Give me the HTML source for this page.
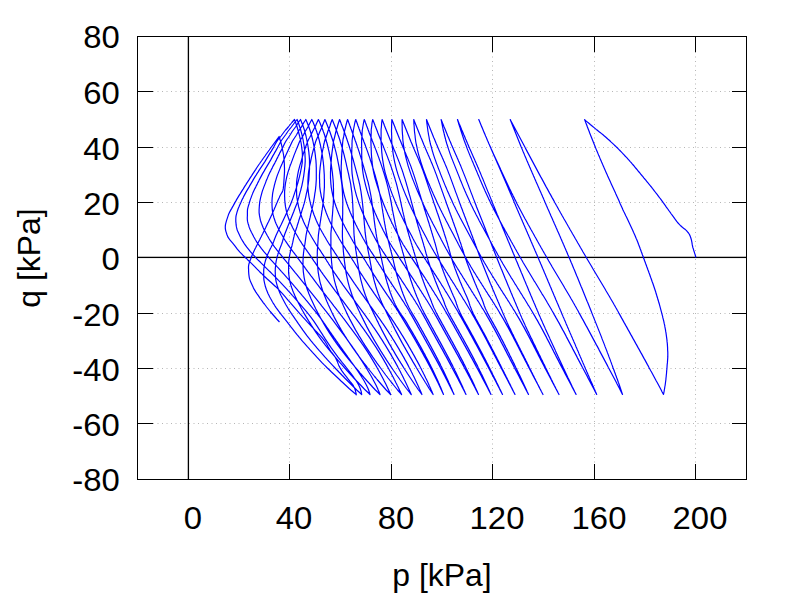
<!DOCTYPE html>
<html><head><meta charset="utf-8"><title>p-q stress path</title>
<style>
html,body{margin:0;padding:0;background:#fff;}
body{width:800px;height:600px;overflow:hidden;}
svg{display:block;}
text{font-family:"Liberation Sans",sans-serif;fill:#000;}
</style></head><body>
<svg width="800" height="600" viewBox="0 0 800 600">
<rect x="0" y="0" width="800" height="600" fill="#ffffff"/>
<g stroke="#b6b6b6" stroke-width="1" stroke-dasharray="1,3.5" fill="none">
<line x1="289.5" y1="52" x2="289.5" y2="463.5"/>
<line x1="391.5" y1="52" x2="391.5" y2="463.5"/>
<line x1="492.5" y1="52" x2="492.5" y2="463.5"/>
<line x1="594.5" y1="52" x2="594.5" y2="463.5"/>
<line x1="695.5" y1="52" x2="695.5" y2="463.5"/>
<line x1="153" y1="91.5" x2="731.5" y2="91.5"/>
<line x1="153" y1="147.5" x2="731.5" y2="147.5"/>
<line x1="153" y1="202.5" x2="731.5" y2="202.5"/>
<line x1="153" y1="313.5" x2="731.5" y2="313.5"/>
<line x1="153" y1="368.5" x2="731.5" y2="368.5"/>
<line x1="153" y1="423.5" x2="731.5" y2="423.5"/>
</g>
<g stroke="#000" stroke-width="1" fill="none" shape-rendering="crispEdges"><line stroke-opacity="0.26" x1="138.0" y1="256.5" x2="746.0" y2="256.5"/><line stroke-opacity="0.06" x1="138.0" y1="258.5" x2="746.0" y2="258.5"/><line stroke-opacity="0.26" x1="187.5" y1="37.0" x2="187.5" y2="479.0"/><line stroke-opacity="0.06" x1="189.5" y1="37.0" x2="189.5" y2="479.0"/></g>
<g stroke="#000" stroke-width="1" fill="none" shape-rendering="crispEdges">
<rect x="137.5" y="36.5" width="609.0" height="443.0"/>
<line x1="137.5" y1="257.5" x2="746.5" y2="257.5"/>
<line x1="188.5" y1="36.5" x2="188.5" y2="479.5"/>
<line x1="188.5" y1="479.5" x2="188.5" y2="463.5"/>
<line x1="188.5" y1="36.5" x2="188.5" y2="51.5"/>
<line x1="289.5" y1="479.5" x2="289.5" y2="463.5"/>
<line x1="289.5" y1="36.5" x2="289.5" y2="51.5"/>
<line x1="391.5" y1="479.5" x2="391.5" y2="463.5"/>
<line x1="391.5" y1="36.5" x2="391.5" y2="51.5"/>
<line x1="492.5" y1="479.5" x2="492.5" y2="463.5"/>
<line x1="492.5" y1="36.5" x2="492.5" y2="51.5"/>
<line x1="594.5" y1="479.5" x2="594.5" y2="463.5"/>
<line x1="594.5" y1="36.5" x2="594.5" y2="51.5"/>
<line x1="695.5" y1="479.5" x2="695.5" y2="463.5"/>
<line x1="695.5" y1="36.5" x2="695.5" y2="51.5"/>
<line x1="137.5" y1="36.5" x2="152.5" y2="36.5"/>
<line x1="746.5" y1="36.5" x2="731.5" y2="36.5"/>
<line x1="137.5" y1="91.5" x2="152.5" y2="91.5"/>
<line x1="746.5" y1="91.5" x2="731.5" y2="91.5"/>
<line x1="137.5" y1="147.5" x2="152.5" y2="147.5"/>
<line x1="746.5" y1="147.5" x2="731.5" y2="147.5"/>
<line x1="137.5" y1="202.5" x2="152.5" y2="202.5"/>
<line x1="746.5" y1="202.5" x2="731.5" y2="202.5"/>
<line x1="137.5" y1="257.5" x2="152.5" y2="257.5"/>
<line x1="746.5" y1="257.5" x2="731.5" y2="257.5"/>
<line x1="137.5" y1="313.5" x2="152.5" y2="313.5"/>
<line x1="746.5" y1="313.5" x2="731.5" y2="313.5"/>
<line x1="137.5" y1="368.5" x2="152.5" y2="368.5"/>
<line x1="746.5" y1="368.5" x2="731.5" y2="368.5"/>
<line x1="137.5" y1="423.5" x2="152.5" y2="423.5"/>
<line x1="746.5" y1="423.5" x2="731.5" y2="423.5"/>
<line x1="137.5" y1="479.5" x2="152.5" y2="479.5"/>
<line x1="746.5" y1="479.5" x2="731.5" y2="479.5"/>
</g>
<path d="M695.9,257.5 L695.5,256.0 L695.1,254.6 L694.6,253.1 L694.2,251.7 L693.7,250.2 L693.3,248.8 L692.8,247.4 L692.5,245.9 L692.2,244.4 L692.0,242.9 L691.7,241.4 L691.4,239.9 L691.0,238.5 L690.5,237.0 L690.0,235.6 L689.3,234.3 L688.5,233.0 L687.5,231.8 L686.5,230.6 L685.4,229.6 L684.2,228.7 L683.0,227.8 L681.8,226.8 L680.7,225.8 L679.6,224.7 L678.6,223.6 L677.6,222.5 L676.7,221.3 L675.8,220.1 L674.9,218.9 L674.0,217.6 L673.1,216.4 L672.2,215.2 L671.3,214.0 L670.4,212.7 L669.6,211.5 L668.7,210.3 L667.8,209.0 L666.9,207.8 L666.0,206.6 L665.2,205.3 L664.3,204.1 L663.4,202.9 L662.5,201.6 L661.6,200.4 L660.7,199.2 L659.8,198.0 L658.9,196.8 L658.0,195.6 L657.1,194.4 L656.1,193.2 L655.2,192.0 L654.3,190.8 L653.4,189.6 L652.4,188.4 L651.5,187.2 L650.5,186.0 L649.6,184.8 L648.6,183.7 L647.7,182.5 L646.7,181.3 L645.8,180.1 L644.8,179.0 L643.8,177.8 L642.9,176.6 L641.9,175.5 L640.9,174.3 L640.0,173.2 L639.0,172.0 L638.0,170.8 L637.1,169.7 L636.1,168.5 L635.1,167.3 L634.2,166.2 L633.2,165.0 L632.2,163.9 L631.2,162.7 L630.2,161.6 L629.2,160.4 L628.2,159.3 L627.2,158.2 L626.2,157.1 L625.1,156.0 L624.1,154.9 L623.1,153.8 L622.0,152.7 L621.0,151.6 L619.9,150.5 L618.8,149.4 L617.8,148.3 L616.7,147.3 L615.6,146.2 L614.5,145.2 L613.4,144.1 L612.3,143.1 L611.2,142.1 L610.1,141.0 L609.0,140.0 L607.8,139.0 L606.7,138.0 L605.6,137.0 L604.4,136.0 L603.3,135.0 L602.1,134.1 L600.9,133.1 L599.7,132.2 L598.5,131.3 L597.4,130.3 L596.2,129.4 L595.0,128.4 L593.8,127.4 L592.7,126.5 L591.5,125.5 L590.3,124.5 L589.2,123.5 L588.0,122.6 L586.9,121.6 L585.7,120.6 L584.6,119.6 L584.6,119.5 L585.2,121.0 L585.7,122.5 L586.3,124.0 L586.9,125.5 L587.4,127.0 L588.0,128.5 L588.6,130.0 L589.2,131.5 L589.7,133.0 L590.3,134.5 L590.9,136.0 L591.5,137.5 L592.1,139.0 L592.7,140.5 L593.3,142.0 L593.9,143.5 L594.5,145.0 L595.1,146.5 L595.7,148.1 L596.3,149.6 L596.9,151.1 L597.6,152.6 L598.2,154.1 L598.8,155.6 L599.5,157.1 L600.1,158.6 L600.7,160.1 L601.4,161.6 L602.0,163.1 L602.7,164.6 L603.3,166.1 L604.0,167.6 L604.6,169.1 L605.3,170.6 L605.9,172.1 L606.6,173.6 L607.3,175.1 L607.9,176.6 L608.6,178.1 L609.3,179.6 L610.0,181.1 L610.7,182.6 L611.3,184.1 L612.0,185.6 L612.7,187.1 L613.4,188.6 L614.1,190.1 L614.8,191.6 L615.5,193.1 L616.1,194.6 L616.8,196.1 L617.5,197.6 L618.2,199.1 L618.9,200.6 L619.6,202.2 L620.2,203.7 L620.9,205.2 L621.6,206.7 L622.3,208.2 L622.9,209.7 L623.6,211.2 L624.4,212.7 L625.1,214.2 L625.8,215.7 L626.6,217.2 L627.3,218.7 L628.0,220.2 L628.7,221.7 L629.4,223.2 L630.1,224.7 L630.8,226.2 L631.5,227.7 L632.2,229.2 L632.9,230.7 L633.5,232.2 L634.2,233.7 L634.9,235.2 L635.5,236.7 L636.1,238.2 L636.8,239.7 L637.4,241.2 L638.0,242.7 L638.5,244.2 L639.1,245.7 L639.7,247.2 L640.2,248.7 L640.8,250.2 L641.3,251.7 L641.9,253.2 L642.4,254.7 L643.0,256.2 L643.5,257.8 L644.1,259.3 L644.6,260.8 L645.2,262.3 L645.7,263.8 L646.3,265.3 L646.8,266.8 L647.4,268.3 L647.9,269.8 L648.5,271.3 L649.0,272.8 L649.6,274.3 L650.1,275.8 L650.6,277.3 L651.2,278.8 L651.7,280.3 L652.2,281.8 L652.8,283.3 L653.3,284.8 L653.8,286.3 L654.3,287.8 L654.8,289.3 L655.3,290.8 L655.8,292.3 L656.2,293.8 L656.7,295.3 L657.1,296.8 L657.6,298.3 L658.0,299.8 L658.5,301.3 L658.9,302.8 L659.4,304.3 L659.8,305.8 L660.2,307.3 L660.6,308.8 L661.0,310.3 L661.4,311.8 L661.8,313.4 L662.2,314.9 L662.6,316.4 L662.9,317.9 L663.3,319.4 L663.7,320.9 L664.0,322.4 L664.3,323.9 L664.7,325.4 L664.9,326.9 L665.2,328.4 L665.5,329.9 L665.7,331.4 L666.0,332.9 L666.2,334.4 L666.4,335.9 L666.6,337.4 L666.8,338.9 L667.0,340.4 L667.1,341.9 L667.3,343.4 L667.4,344.9 L667.5,346.4 L667.6,347.9 L667.6,349.4 L667.7,350.9 L667.8,352.4 L667.8,353.9 L667.8,355.4 L667.8,356.9 L667.7,358.4 L667.6,359.9 L667.5,361.4 L667.4,362.9 L667.2,364.4 L667.1,365.9 L667.0,367.5 L666.9,369.0 L666.7,370.5 L666.6,372.0 L666.5,373.5 L666.3,375.0 L666.2,376.5 L666.0,378.0 L665.9,379.5 L665.7,381.0 L665.5,382.5 L665.3,384.0 L665.1,385.5 L664.8,387.0 L664.6,388.5 L664.3,390.0 L664.1,391.5 L663.8,393.0 L663.5,394.5 L663.5,394.5 L662.7,393.0 L661.9,391.5 L661.2,390.0 L660.4,388.5 L659.6,387.0 L658.8,385.5 L658.0,384.0 L657.2,382.5 L656.3,381.0 L655.5,379.5 L654.7,378.0 L653.9,376.5 L653.1,375.0 L652.3,373.5 L651.5,372.0 L650.6,370.5 L649.8,369.0 L649.0,367.5 L648.2,365.9 L647.3,364.4 L646.5,362.9 L645.7,361.4 L644.9,359.9 L644.0,358.4 L643.2,356.9 L642.4,355.4 L641.6,353.9 L640.7,352.4 L639.9,350.9 L639.1,349.4 L638.2,347.9 L637.4,346.4 L636.6,344.9 L635.7,343.4 L634.9,341.9 L634.1,340.4 L633.2,338.9 L632.4,337.4 L631.6,335.9 L630.7,334.4 L629.9,332.9 L629.1,331.4 L628.2,329.9 L627.4,328.4 L626.6,326.9 L625.7,325.4 L624.9,323.9 L624.0,322.4 L623.2,320.9 L622.4,319.4 L621.5,317.9 L620.7,316.4 L619.9,314.9 L619.0,313.4 L618.2,311.8 L617.3,310.3 L616.5,308.8 L615.6,307.3 L614.8,305.8 L613.9,304.3 L613.1,302.8 L612.2,301.3 L611.3,299.8 L610.4,298.3 L609.6,296.8 L608.7,295.3 L607.8,293.8 L606.9,292.3 L606.0,290.8 L605.2,289.3 L604.3,287.8 L603.4,286.3 L602.5,284.8 L601.6,283.3 L600.7,281.8 L599.8,280.3 L598.9,278.8 L598.0,277.3 L597.1,275.8 L596.2,274.3 L595.3,272.8 L594.4,271.3 L593.5,269.8 L592.6,268.3 L591.8,266.8 L590.9,265.3 L590.0,263.8 L589.1,262.3 L588.2,260.8 L587.3,259.3 L586.4,257.8 L585.6,256.2 L584.7,254.7 L583.8,253.2 L582.9,251.7 L582.1,250.2 L581.2,248.7 L580.3,247.2 L579.5,245.7 L578.6,244.2 L577.7,242.7 L576.9,241.2 L576.0,239.7 L575.1,238.2 L574.3,236.7 L573.4,235.2 L572.5,233.7 L571.7,232.2 L570.8,230.7 L569.9,229.2 L569.1,227.7 L568.2,226.2 L567.4,224.7 L566.5,223.2 L565.7,221.7 L564.8,220.2 L563.9,218.7 L563.1,217.2 L562.2,215.7 L561.4,214.2 L560.5,212.7 L559.7,211.2 L558.8,209.7 L558.0,208.2 L557.2,206.7 L556.3,205.2 L555.5,203.7 L554.6,202.2 L553.8,200.6 L553.0,199.1 L552.1,197.6 L551.3,196.1 L550.5,194.6 L549.6,193.1 L548.8,191.6 L548.0,190.1 L547.2,188.6 L546.3,187.1 L545.5,185.6 L544.7,184.1 L543.9,182.6 L543.1,181.1 L542.3,179.6 L541.5,178.1 L540.6,176.6 L539.8,175.1 L539.0,173.6 L538.2,172.1 L537.4,170.6 L536.6,169.1 L535.8,167.6 L535.0,166.1 L534.2,164.6 L533.4,163.1 L532.6,161.6 L531.8,160.1 L531.0,158.6 L530.2,157.1 L529.4,155.6 L528.6,154.1 L527.8,152.6 L527.0,151.1 L526.2,149.6 L525.4,148.1 L524.6,146.5 L523.8,145.0 L523.0,143.5 L522.2,142.0 L521.4,140.5 L520.6,139.0 L519.8,137.5 L519.0,136.0 L518.2,134.5 L517.4,133.0 L516.6,131.5 L515.8,130.0 L515.0,128.5 L514.2,127.0 L513.4,125.5 L512.6,124.0 L511.8,122.5 L511.0,121.0 L510.3,119.5 L510.2,119.5 L510.8,121.0 L511.4,122.5 L512.0,124.0 L512.6,125.5 L513.2,127.0 L513.8,128.5 L514.4,130.0 L515.0,131.5 L515.6,133.0 L516.2,134.5 L516.8,136.0 L517.4,137.5 L518.0,139.0 L518.6,140.5 L519.2,142.0 L519.8,143.5 L520.4,145.0 L521.0,146.5 L521.7,148.1 L522.3,149.6 L522.9,151.1 L523.5,152.6 L524.2,154.1 L524.8,155.6 L525.4,157.1 L526.1,158.6 L526.7,160.1 L527.3,161.6 L528.0,163.1 L528.6,164.6 L529.3,166.1 L529.9,167.6 L530.6,169.1 L531.2,170.6 L531.9,172.1 L532.5,173.6 L533.2,175.1 L533.8,176.6 L534.5,178.1 L535.1,179.6 L535.8,181.1 L536.4,182.6 L537.1,184.1 L537.8,185.6 L538.4,187.1 L539.1,188.6 L539.7,190.1 L540.4,191.6 L541.1,193.1 L541.7,194.6 L542.4,196.1 L543.0,197.6 L543.7,199.1 L544.3,200.6 L545.0,202.2 L545.7,203.7 L546.3,205.2 L547.0,206.7 L547.6,208.2 L548.3,209.7 L549.0,211.2 L549.6,212.7 L550.3,214.2 L550.9,215.7 L551.6,217.2 L552.3,218.7 L552.9,220.2 L553.6,221.7 L554.2,223.2 L554.9,224.7 L555.6,226.2 L556.2,227.7 L556.9,229.2 L557.5,230.7 L558.2,232.2 L558.9,233.7 L559.5,235.2 L560.2,236.7 L560.8,238.2 L561.5,239.7 L562.1,241.2 L562.8,242.7 L563.4,244.2 L564.1,245.7 L564.7,247.2 L565.4,248.7 L566.0,250.2 L566.7,251.7 L567.3,253.2 L567.9,254.7 L568.6,256.2 L569.2,257.8 L569.9,259.3 L570.5,260.8 L571.1,262.3 L571.8,263.8 L572.4,265.3 L573.0,266.8 L573.6,268.3 L574.3,269.8 L574.9,271.3 L575.5,272.8 L576.1,274.3 L576.7,275.8 L577.4,277.3 L578.0,278.8 L578.6,280.3 L579.2,281.8 L579.8,283.3 L580.4,284.8 L581.0,286.3 L581.7,287.8 L582.3,289.3 L582.9,290.8 L583.5,292.3 L584.1,293.8 L584.7,295.3 L585.3,296.8 L585.9,298.3 L586.5,299.8 L587.1,301.3 L587.8,302.8 L588.4,304.3 L589.0,305.8 L589.6,307.3 L590.2,308.8 L590.8,310.3 L591.4,311.8 L592.0,313.4 L592.6,314.9 L593.2,316.4 L593.8,317.9 L594.4,319.4 L595.0,320.9 L595.6,322.4 L596.2,323.9 L596.8,325.4 L597.4,326.9 L598.0,328.4 L598.6,329.9 L599.2,331.4 L599.8,332.9 L600.4,334.4 L601.0,335.9 L601.6,337.4 L602.1,338.9 L602.7,340.4 L603.3,341.9 L603.9,343.4 L604.5,344.9 L605.0,346.4 L605.6,347.9 L606.2,349.4 L606.8,350.9 L607.3,352.4 L607.9,353.9 L608.5,355.4 L609.0,356.9 L609.6,358.4 L610.2,359.9 L610.7,361.4 L611.3,362.9 L611.8,364.4 L612.4,365.9 L612.9,367.5 L613.5,369.0 L614.1,370.5 L614.6,372.0 L615.2,373.5 L615.7,375.0 L616.3,376.5 L616.8,378.0 L617.4,379.5 L617.9,381.0 L618.4,382.5 L619.0,384.0 L619.5,385.5 L620.0,387.0 L620.5,388.5 L621.0,390.0 L621.5,391.5 L622.0,393.0 L622.5,394.5 L622.5,394.5 L621.7,393.0 L621.0,391.5 L620.2,390.0 L619.5,388.5 L618.7,387.0 L617.9,385.5 L617.1,384.0 L616.4,382.5 L615.6,381.0 L614.8,379.5 L614.0,378.0 L613.2,376.5 L612.4,375.0 L611.6,373.5 L610.8,372.0 L610.0,370.5 L609.2,369.0 L608.4,367.5 L607.6,365.9 L606.8,364.4 L606.0,362.9 L605.2,361.4 L604.4,359.9 L603.6,358.4 L602.8,356.9 L602.0,355.4 L601.2,353.9 L600.4,352.4 L599.6,350.9 L598.9,349.4 L598.1,347.9 L597.3,346.4 L596.4,344.9 L595.6,343.4 L594.8,341.9 L594.0,340.4 L593.2,338.9 L592.4,337.4 L591.6,335.9 L590.8,334.4 L590.0,332.9 L589.2,331.4 L588.4,329.9 L587.6,328.4 L586.8,326.9 L585.9,325.4 L585.1,323.9 L584.3,322.4 L583.5,320.9 L582.7,319.4 L581.8,317.9 L581.0,316.4 L580.2,314.9 L579.3,313.4 L578.5,311.8 L577.7,310.3 L576.8,308.8 L576.0,307.3 L575.1,305.8 L574.3,304.3 L573.4,302.8 L572.6,301.3 L571.7,299.8 L570.8,298.3 L570.0,296.8 L569.1,295.3 L568.2,293.8 L567.3,292.3 L566.4,290.8 L565.5,289.3 L564.6,287.8 L563.8,286.3 L562.9,284.8 L562.0,283.3 L561.1,281.8 L560.2,280.3 L559.3,278.8 L558.4,277.3 L557.5,275.8 L556.6,274.3 L555.7,272.8 L554.8,271.3 L553.9,269.8 L553.0,268.3 L552.1,266.8 L551.3,265.3 L550.4,263.8 L549.5,262.3 L548.6,260.8 L547.8,259.3 L546.9,257.8 L546.1,256.2 L545.2,254.7 L544.3,253.2 L543.5,251.7 L542.6,250.2 L541.8,248.7 L540.9,247.2 L540.1,245.7 L539.2,244.2 L538.4,242.7 L537.5,241.2 L536.7,239.7 L535.9,238.2 L535.0,236.7 L534.2,235.2 L533.4,233.7 L532.5,232.2 L531.7,230.7 L530.8,229.2 L530.0,227.7 L529.2,226.2 L528.3,224.7 L527.5,223.2 L526.7,221.7 L525.9,220.2 L525.0,218.7 L524.2,217.2 L523.4,215.7 L522.6,214.2 L521.8,212.7 L521.0,211.2 L520.2,209.7 L519.4,208.2 L518.6,206.7 L517.8,205.2 L517.0,203.7 L516.3,202.2 L515.5,200.6 L514.7,199.1 L514.0,197.6 L513.2,196.1 L512.5,194.6 L511.7,193.1 L511.0,191.6 L510.3,190.1 L509.5,188.6 L508.8,187.1 L508.1,185.6 L507.4,184.1 L506.7,182.6 L506.0,181.1 L505.3,179.6 L504.6,178.1 L503.9,176.6 L503.2,175.1 L502.5,173.6 L501.8,172.1 L501.1,170.6 L500.5,169.1 L499.8,167.6 L499.1,166.1 L498.4,164.6 L497.7,163.1 L497.0,161.6 L496.3,160.1 L495.6,158.6 L494.9,157.1 L494.2,155.6 L493.5,154.1 L492.9,152.6 L492.2,151.1 L491.5,149.6 L490.9,148.1 L490.2,146.5 L489.5,145.0 L488.8,143.5 L488.2,142.0 L487.5,140.5 L486.9,139.0 L486.3,137.5 L485.6,136.0 L485.0,134.5 L484.3,133.0 L483.7,131.5 L483.1,130.0 L482.5,128.5 L481.8,127.0 L481.2,125.5 L480.6,124.0 L480.0,122.5 L479.4,121.0 L478.8,119.5 L478.7,119.5 L479.4,121.0 L480.0,122.5 L480.6,124.0 L481.2,125.5 L481.9,127.0 L482.5,128.5 L483.1,130.0 L483.7,131.5 L484.4,133.0 L485.0,134.5 L485.6,136.0 L486.3,137.5 L486.9,139.0 L487.5,140.5 L488.2,142.0 L488.8,143.5 L489.5,145.0 L490.1,146.5 L490.8,148.1 L491.4,149.6 L492.1,151.1 L492.7,152.6 L493.4,154.1 L494.0,155.6 L494.7,157.1 L495.4,158.6 L496.0,160.1 L496.7,161.6 L497.3,163.1 L498.0,164.6 L498.7,166.1 L499.3,167.6 L500.0,169.1 L500.6,170.6 L501.3,172.1 L501.9,173.6 L502.6,175.1 L503.2,176.6 L503.9,178.1 L504.5,179.6 L505.2,181.1 L505.8,182.6 L506.5,184.1 L507.1,185.6 L507.8,187.1 L508.4,188.6 L509.0,190.1 L509.7,191.6 L510.3,193.1 L511.0,194.6 L511.6,196.1 L512.3,197.6 L512.9,199.1 L513.6,200.6 L514.2,202.2 L514.9,203.7 L515.5,205.2 L516.1,206.7 L516.8,208.2 L517.4,209.7 L518.1,211.2 L518.7,212.7 L519.4,214.2 L520.0,215.7 L520.7,217.2 L521.3,218.7 L522.0,220.2 L522.6,221.7 L523.3,223.2 L523.9,224.7 L524.6,226.2 L525.2,227.7 L525.9,229.2 L526.5,230.7 L527.2,232.2 L527.8,233.7 L528.5,235.2 L529.1,236.7 L529.8,238.2 L530.4,239.7 L531.0,241.2 L531.7,242.7 L532.3,244.2 L533.0,245.7 L533.6,247.2 L534.3,248.7 L534.9,250.2 L535.6,251.7 L536.2,253.2 L536.9,254.7 L537.5,256.2 L538.2,257.8 L538.8,259.3 L539.4,260.8 L540.1,262.3 L540.7,263.8 L541.4,265.3 L542.0,266.8 L542.6,268.3 L543.3,269.8 L543.9,271.3 L544.5,272.8 L545.2,274.3 L545.8,275.8 L546.4,277.3 L547.1,278.8 L547.7,280.3 L548.3,281.8 L549.0,283.3 L549.6,284.8 L550.2,286.3 L550.9,287.8 L551.5,289.3 L552.1,290.8 L552.8,292.3 L553.4,293.8 L554.0,295.3 L554.7,296.8 L555.3,298.3 L555.9,299.8 L556.6,301.3 L557.2,302.8 L557.9,304.3 L558.5,305.8 L559.1,307.3 L559.8,308.8 L560.4,310.3 L561.1,311.8 L561.7,313.4 L562.4,314.9 L563.0,316.4 L563.7,317.9 L564.3,319.4 L565.0,320.9 L565.6,322.4 L566.2,323.9 L566.9,325.4 L567.5,326.9 L568.2,328.4 L568.8,329.9 L569.5,331.4 L570.1,332.9 L570.8,334.4 L571.4,335.9 L572.1,337.4 L572.7,338.9 L573.4,340.4 L574.0,341.9 L574.7,343.4 L575.3,344.9 L575.9,346.4 L576.6,347.9 L577.2,349.4 L577.9,350.9 L578.5,352.4 L579.1,353.9 L579.8,355.4 L580.4,356.9 L581.1,358.4 L581.7,359.9 L582.4,361.4 L583.0,362.9 L583.7,364.4 L584.3,365.9 L585.0,367.5 L585.6,369.0 L586.3,370.5 L586.9,372.0 L587.6,373.5 L588.2,375.0 L588.9,376.5 L589.5,378.0 L590.2,379.5 L590.8,381.0 L591.5,382.5 L592.2,384.0 L592.8,385.5 L593.5,387.0 L594.1,388.5 L594.8,390.0 L595.4,391.5 L596.1,393.0 L596.7,394.5 L596.7,394.5 L595.9,393.0 L595.1,391.5 L594.4,390.0 L593.6,388.5 L592.8,387.0 L592.0,385.5 L591.2,384.0 L590.4,382.5 L589.6,381.0 L588.8,379.5 L588.0,378.0 L587.3,376.5 L586.5,375.0 L585.7,373.5 L584.9,372.0 L584.1,370.5 L583.3,369.0 L582.5,367.5 L581.7,365.9 L580.9,364.4 L580.1,362.9 L579.3,361.4 L578.5,359.9 L577.7,358.4 L577.0,356.9 L576.2,355.4 L575.4,353.9 L574.6,352.4 L573.8,350.9 L573.0,349.4 L572.3,347.9 L571.5,346.4 L570.7,344.9 L569.9,343.4 L569.1,341.9 L568.3,340.4 L567.5,338.9 L566.7,337.4 L566.0,335.9 L565.2,334.4 L564.4,332.9 L563.6,331.4 L562.7,329.9 L561.9,328.4 L561.1,326.9 L560.3,325.4 L559.5,323.9 L558.7,322.4 L557.8,320.9 L557.0,319.4 L556.1,317.9 L555.3,316.4 L554.4,314.9 L553.6,313.4 L552.7,311.8 L551.8,310.3 L551.0,308.8 L550.1,307.3 L549.2,305.8 L548.3,304.3 L547.4,302.8 L546.6,301.3 L545.7,299.8 L544.8,298.3 L543.9,296.8 L543.0,295.3 L542.0,293.8 L541.1,292.3 L540.2,290.8 L539.3,289.3 L538.4,287.8 L537.5,286.3 L536.6,284.8 L535.7,283.3 L534.8,281.8 L533.8,280.3 L532.9,278.8 L532.0,277.3 L531.1,275.8 L530.2,274.3 L529.3,272.8 L528.4,271.3 L527.5,269.8 L526.6,268.3 L525.7,266.8 L524.8,265.3 L523.9,263.8 L523.0,262.3 L522.2,260.8 L521.3,259.3 L520.5,257.8 L519.6,256.2 L518.7,254.7 L517.9,253.2 L517.0,251.7 L516.2,250.2 L515.3,248.7 L514.5,247.2 L513.7,245.7 L512.8,244.2 L512.0,242.7 L511.1,241.2 L510.3,239.7 L509.5,238.2 L508.7,236.7 L507.8,235.2 L507.0,233.7 L506.2,232.2 L505.3,230.7 L504.5,229.2 L503.7,227.7 L502.8,226.2 L502.0,224.7 L501.2,223.2 L500.4,221.7 L499.6,220.2 L498.8,218.7 L498.0,217.2 L497.2,215.7 L496.4,214.2 L495.6,212.7 L494.8,211.2 L494.0,209.7 L493.3,208.2 L492.5,206.7 L491.8,205.2 L491.0,203.7 L490.3,202.2 L489.6,200.6 L488.8,199.1 L488.1,197.6 L487.4,196.1 L486.7,194.6 L486.0,193.1 L485.3,191.6 L484.7,190.1 L484.0,188.6 L483.3,187.1 L482.7,185.6 L482.0,184.1 L481.4,182.6 L480.7,181.1 L480.1,179.6 L479.5,178.1 L478.9,176.6 L478.2,175.1 L477.6,173.6 L477.0,172.1 L476.3,170.6 L475.7,169.1 L475.1,167.6 L474.4,166.1 L473.8,164.6 L473.2,163.1 L472.5,161.6 L471.9,160.1 L471.3,158.6 L470.6,157.1 L470.0,155.6 L469.4,154.1 L468.8,152.6 L468.2,151.1 L467.6,149.6 L467.0,148.1 L466.5,146.5 L465.9,145.0 L465.3,143.5 L464.8,142.0 L464.2,140.5 L463.7,139.0 L463.2,137.5 L462.7,136.0 L462.2,134.5 L461.7,133.0 L461.2,131.5 L460.7,130.0 L460.3,128.5 L459.8,127.0 L459.3,125.5 L458.8,124.0 L458.4,122.5 L457.9,121.0 L457.5,119.5 L457.5,119.5 L458.1,121.0 L458.7,122.5 L459.3,124.0 L460.0,125.5 L460.6,127.0 L461.2,128.5 L461.8,130.0 L462.5,131.5 L463.1,133.0 L463.7,134.5 L464.4,136.0 L465.0,137.5 L465.6,139.0 L466.3,140.5 L466.9,142.0 L467.5,143.5 L468.2,145.0 L468.8,146.5 L469.5,148.1 L470.1,149.6 L470.8,151.1 L471.5,152.6 L472.1,154.1 L472.8,155.6 L473.4,157.1 L474.1,158.6 L474.8,160.1 L475.4,161.6 L476.1,163.1 L476.7,164.6 L477.4,166.1 L478.0,167.6 L478.7,169.1 L479.3,170.6 L479.9,172.1 L480.6,173.6 L481.2,175.1 L481.8,176.6 L482.4,178.1 L483.1,179.6 L483.7,181.1 L484.3,182.6 L484.9,184.1 L485.5,185.6 L486.1,187.1 L486.7,188.6 L487.3,190.1 L487.9,191.6 L488.5,193.1 L489.2,194.6 L489.8,196.1 L490.4,197.6 L491.0,199.1 L491.6,200.6 L492.2,202.2 L492.8,203.7 L493.4,205.2 L494.1,206.7 L494.7,208.2 L495.3,209.7 L495.9,211.2 L496.5,212.7 L497.1,214.2 L497.8,215.7 L498.4,217.2 L499.0,218.7 L499.6,220.2 L500.2,221.7 L500.9,223.2 L501.5,224.7 L502.1,226.2 L502.7,227.7 L503.3,229.2 L504.0,230.7 L504.6,232.2 L505.2,233.7 L505.8,235.2 L506.5,236.7 L507.1,238.2 L507.7,239.7 L508.3,241.2 L509.0,242.7 L509.6,244.2 L510.2,245.7 L510.8,247.2 L511.5,248.7 L512.1,250.2 L512.7,251.7 L513.3,253.2 L514.0,254.7 L514.6,256.2 L515.2,257.8 L515.8,259.3 L516.4,260.8 L517.1,262.3 L517.7,263.8 L518.3,265.3 L518.9,266.8 L519.6,268.3 L520.2,269.8 L520.8,271.3 L521.4,272.8 L522.1,274.3 L522.7,275.8 L523.3,277.3 L523.9,278.8 L524.5,280.3 L525.2,281.8 L525.8,283.3 L526.4,284.8 L527.1,286.3 L527.7,287.8 L528.3,289.3 L528.9,290.8 L529.6,292.3 L530.2,293.8 L530.8,295.3 L531.5,296.8 L532.1,298.3 L532.7,299.8 L533.4,301.3 L534.0,302.8 L534.7,304.3 L535.3,305.8 L535.9,307.3 L536.6,308.8 L537.2,310.3 L537.9,311.8 L538.5,313.4 L539.2,314.9 L539.9,316.4 L540.5,317.9 L541.2,319.4 L541.9,320.9 L542.5,322.4 L543.2,323.9 L543.9,325.4 L544.6,326.9 L545.2,328.4 L545.9,329.9 L546.6,331.4 L547.3,332.9 L548.0,334.4 L548.7,335.9 L549.4,337.4 L550.0,338.9 L550.7,340.4 L551.4,341.9 L552.1,343.4 L552.8,344.9 L553.5,346.4 L554.2,347.9 L554.9,349.4 L555.5,350.9 L556.2,352.4 L556.9,353.9 L557.6,355.4 L558.3,356.9 L559.0,358.4 L559.7,359.9 L560.4,361.4 L561.1,362.9 L561.8,364.4 L562.5,365.9 L563.2,367.5 L563.9,369.0 L564.6,370.5 L565.3,372.0 L566.0,373.5 L566.7,375.0 L567.4,376.5 L568.1,378.0 L568.9,379.5 L569.6,381.0 L570.3,382.5 L571.0,384.0 L571.7,385.5 L572.4,387.0 L573.2,388.5 L573.9,390.0 L574.6,391.5 L575.4,393.0 L576.1,394.5 L576.1,394.5 L575.3,393.0 L574.5,391.5 L573.7,390.0 L572.9,388.5 L572.1,387.0 L571.4,385.5 L570.6,384.0 L569.8,382.5 L569.0,381.0 L568.2,379.5 L567.4,378.0 L566.6,376.5 L565.8,375.0 L565.0,373.5 L564.3,372.0 L563.5,370.5 L562.7,369.0 L561.9,367.5 L561.1,365.9 L560.3,364.4 L559.5,362.9 L558.8,361.4 L558.0,359.9 L557.2,358.4 L556.4,356.9 L555.7,355.4 L554.9,353.9 L554.1,352.4 L553.4,350.9 L552.6,349.4 L551.9,347.9 L551.1,346.4 L550.3,344.9 L549.6,343.4 L548.8,341.9 L548.0,340.4 L547.2,338.9 L546.5,337.4 L545.7,335.9 L544.9,334.4 L544.1,332.9 L543.3,331.4 L542.5,329.9 L541.7,328.4 L540.9,326.9 L540.1,325.4 L539.2,323.9 L538.4,322.4 L537.6,320.9 L536.7,319.4 L535.8,317.9 L535.0,316.4 L534.1,314.9 L533.2,313.4 L532.3,311.8 L531.4,310.3 L530.5,308.8 L529.6,307.3 L528.7,305.8 L527.7,304.3 L526.8,302.8 L525.9,301.3 L525.0,299.8 L524.1,298.3 L523.1,296.8 L522.2,295.3 L521.3,293.8 L520.3,292.3 L519.4,290.8 L518.5,289.3 L517.5,287.8 L516.6,286.3 L515.7,284.8 L514.7,283.3 L513.8,281.8 L512.9,280.3 L512.0,278.8 L511.0,277.3 L510.1,275.8 L509.2,274.3 L508.3,272.8 L507.4,271.3 L506.5,269.8 L505.6,268.3 L504.7,266.8 L503.8,265.3 L502.9,263.8 L502.1,262.3 L501.2,260.8 L500.4,259.3 L499.5,257.8 L498.7,256.2 L497.8,254.7 L497.0,253.2 L496.2,251.7 L495.3,250.2 L494.5,248.7 L493.7,247.2 L492.8,245.7 L492.0,244.2 L491.2,242.7 L490.4,241.2 L489.6,239.7 L488.8,238.2 L487.9,236.7 L487.1,235.2 L486.3,233.7 L485.5,232.2 L484.7,230.7 L483.9,229.2 L483.1,227.7 L482.2,226.2 L481.4,224.7 L480.6,223.2 L479.8,221.7 L479.0,220.2 L478.3,218.7 L477.5,217.2 L476.7,215.7 L475.9,214.2 L475.2,212.7 L474.4,211.2 L473.6,209.7 L472.9,208.2 L472.2,206.7 L471.4,205.2 L470.7,203.7 L470.0,202.2 L469.3,200.6 L468.6,199.1 L467.9,197.6 L467.2,196.1 L466.5,194.6 L465.9,193.1 L465.2,191.6 L464.6,190.1 L463.9,188.6 L463.3,187.1 L462.7,185.6 L462.1,184.1 L461.5,182.6 L460.8,181.1 L460.2,179.6 L459.7,178.1 L459.1,176.6 L458.5,175.1 L457.9,173.6 L457.3,172.1 L456.7,170.6 L456.1,169.1 L455.5,167.6 L454.9,166.1 L454.3,164.6 L453.7,163.1 L453.1,161.6 L452.5,160.1 L451.9,158.6 L451.3,157.1 L450.8,155.6 L450.2,154.1 L449.7,152.6 L449.2,151.1 L448.7,149.6 L448.2,148.1 L447.7,146.5 L447.2,145.0 L446.7,143.5 L446.3,142.0 L445.8,140.5 L445.5,139.0 L445.1,137.5 L444.7,136.0 L444.3,134.5 L444.0,133.0 L443.6,131.5 L443.2,130.0 L442.9,128.5 L442.6,127.0 L442.3,125.5 L442.0,124.0 L441.7,122.5 L441.4,121.0 L441.1,119.5 L441.1,119.5 L441.7,121.0 L442.3,122.5 L442.9,124.0 L443.5,125.5 L444.1,127.0 L444.8,128.5 L445.4,130.0 L446.0,131.5 L446.6,133.0 L447.2,134.5 L447.8,136.0 L448.5,137.5 L449.1,139.0 L449.7,140.5 L450.4,142.0 L451.0,143.5 L451.6,145.0 L452.3,146.5 L452.9,148.1 L453.6,149.6 L454.2,151.1 L454.9,152.6 L455.5,154.1 L456.2,155.6 L456.9,157.1 L457.5,158.6 L458.2,160.1 L458.8,161.6 L459.5,163.1 L460.1,164.6 L460.8,166.1 L461.4,167.6 L462.0,169.1 L462.6,170.6 L463.2,172.1 L463.8,173.6 L464.4,175.1 L465.0,176.6 L465.6,178.1 L466.2,179.6 L466.7,181.1 L467.3,182.6 L467.9,184.1 L468.5,185.6 L469.0,187.1 L469.6,188.6 L470.2,190.1 L470.7,191.6 L471.3,193.1 L471.9,194.6 L472.5,196.1 L473.0,197.6 L473.6,199.1 L474.2,200.6 L474.8,202.2 L475.4,203.7 L476.0,205.2 L476.5,206.7 L477.1,208.2 L477.7,209.7 L478.3,211.2 L478.9,212.7 L479.5,214.2 L480.1,215.7 L480.7,217.2 L481.3,218.7 L481.9,220.2 L482.5,221.7 L483.1,223.2 L483.7,224.7 L484.3,226.2 L484.9,227.7 L485.5,229.2 L486.0,230.7 L486.6,232.2 L487.2,233.7 L487.8,235.2 L488.4,236.7 L489.0,238.2 L489.6,239.7 L490.3,241.2 L490.9,242.7 L491.5,244.2 L492.0,245.7 L492.6,247.2 L493.2,248.7 L493.8,250.2 L494.4,251.7 L495.0,253.2 L495.6,254.7 L496.2,256.2 L496.8,257.8 L497.4,259.3 L498.0,260.8 L498.6,262.3 L499.2,263.8 L499.8,265.3 L500.4,266.8 L501.0,268.3 L501.7,269.8 L502.3,271.3 L502.9,272.8 L503.5,274.3 L504.1,275.8 L504.7,277.3 L505.3,278.8 L506.0,280.3 L506.6,281.8 L507.2,283.3 L507.8,284.8 L508.4,286.3 L509.1,287.8 L509.7,289.3 L510.3,290.8 L510.9,292.3 L511.6,293.8 L512.2,295.3 L512.8,296.8 L513.5,298.3 L514.1,299.8 L514.7,301.3 L515.4,302.8 L516.0,304.3 L516.6,305.8 L517.3,307.3 L517.9,308.8 L518.6,310.3 L519.2,311.8 L519.9,313.4 L520.5,314.9 L521.2,316.4 L521.8,317.9 L522.5,319.4 L523.2,320.9 L523.9,322.4 L524.6,323.9 L525.2,325.4 L525.9,326.9 L526.6,328.4 L527.3,329.9 L528.0,331.4 L528.8,332.9 L529.5,334.4 L530.2,335.9 L530.9,337.4 L531.6,338.9 L532.4,340.4 L533.1,341.9 L533.8,343.4 L534.5,344.9 L535.3,346.4 L536.0,347.9 L536.7,349.4 L537.4,350.9 L538.2,352.4 L538.9,353.9 L539.6,355.4 L540.4,356.9 L541.1,358.4 L541.8,359.9 L542.6,361.4 L543.3,362.9 L544.0,364.4 L544.8,365.9 L545.5,367.5 L546.3,369.0 L547.0,370.5 L547.7,372.0 L548.5,373.5 L549.2,375.0 L550.0,376.5 L550.7,378.0 L551.4,379.5 L552.2,381.0 L552.9,382.5 L553.7,384.0 L554.4,385.5 L555.2,387.0 L555.9,388.5 L556.7,390.0 L557.5,391.5 L558.2,393.0 L559.0,394.5 L559.0,394.5 L558.2,393.0 L557.4,391.5 L556.6,390.0 L555.8,388.5 L555.0,387.0 L554.2,385.5 L553.4,384.0 L552.6,382.5 L551.8,381.0 L551.1,379.5 L550.3,378.0 L549.5,376.5 L548.7,375.0 L547.9,373.5 L547.1,372.0 L546.3,370.5 L545.5,369.0 L544.7,367.5 L544.0,365.9 L543.2,364.4 L542.4,362.9 L541.6,361.4 L540.8,359.9 L540.1,358.4 L539.3,356.9 L538.5,355.4 L537.8,353.9 L537.0,352.4 L536.2,350.9 L535.5,349.4 L534.7,347.9 L533.9,346.4 L533.2,344.9 L532.4,343.4 L531.6,341.9 L530.8,340.4 L530.1,338.9 L529.3,337.4 L528.5,335.9 L527.7,334.4 L526.9,332.9 L526.1,331.4 L525.3,329.9 L524.5,328.4 L523.7,326.9 L522.8,325.4 L522.0,323.9 L521.2,322.4 L520.3,320.9 L519.5,319.4 L518.6,317.9 L517.7,316.4 L516.8,314.9 L515.9,313.4 L515.0,311.8 L514.1,310.3 L513.1,308.8 L512.2,307.3 L511.3,305.8 L510.3,304.3 L509.4,302.8 L508.5,301.3 L507.5,299.8 L506.6,298.3 L505.6,296.8 L504.7,295.3 L503.7,293.8 L502.7,292.3 L501.8,290.8 L500.8,289.3 L499.9,287.8 L498.9,286.3 L498.0,284.8 L497.0,283.3 L496.1,281.8 L495.2,280.3 L494.2,278.8 L493.3,277.3 L492.3,275.8 L491.4,274.3 L490.5,272.8 L489.6,271.3 L488.6,269.8 L487.7,268.3 L486.9,266.8 L486.0,265.3 L485.1,263.8 L484.2,262.3 L483.4,260.8 L482.5,259.3 L481.7,257.8 L480.8,256.2 L480.0,254.7 L479.2,253.2 L478.4,251.7 L477.5,250.2 L476.7,248.7 L475.9,247.2 L475.1,245.7 L474.3,244.2 L473.5,242.7 L472.7,241.2 L471.9,239.7 L471.1,238.2 L470.3,236.7 L469.5,235.2 L468.7,233.7 L467.9,232.2 L467.1,230.7 L466.3,229.2 L465.5,227.7 L464.7,226.2 L463.9,224.7 L463.1,223.2 L462.3,221.7 L461.5,220.2 L460.7,218.7 L459.9,217.2 L459.2,215.7 L458.4,214.2 L457.6,212.7 L456.9,211.2 L456.1,209.7 L455.4,208.2 L454.7,206.7 L453.9,205.2 L453.2,203.7 L452.5,202.2 L451.8,200.6 L451.1,199.1 L450.4,197.6 L449.7,196.1 L449.1,194.6 L448.4,193.1 L447.7,191.6 L447.1,190.1 L446.5,188.6 L445.8,187.1 L445.2,185.6 L444.6,184.1 L444.0,182.6 L443.4,181.1 L442.8,179.6 L442.2,178.1 L441.6,176.6 L441.0,175.1 L440.4,173.6 L439.9,172.1 L439.3,170.6 L438.7,169.1 L438.1,167.6 L437.6,166.1 L437.0,164.6 L436.4,163.1 L435.9,161.6 L435.4,160.1 L434.8,158.6 L434.3,157.1 L433.8,155.6 L433.3,154.1 L432.9,152.6 L432.4,151.1 L432.0,149.6 L431.6,148.1 L431.2,146.5 L430.7,145.0 L430.3,143.5 L430.0,142.0 L429.6,140.5 L429.3,139.0 L429.1,137.5 L428.8,136.0 L428.5,134.5 L428.3,133.0 L428.0,131.5 L427.8,130.0 L427.6,128.5 L427.4,127.0 L427.2,125.5 L427.0,124.0 L426.8,122.5 L426.6,121.0 L426.5,119.5 L426.5,119.5 L427.1,121.0 L427.7,122.5 L428.3,124.0 L428.9,125.5 L429.5,127.0 L430.1,128.5 L430.7,130.0 L431.3,131.5 L431.9,133.0 L432.5,134.5 L433.1,136.0 L433.7,137.5 L434.4,139.0 L435.0,140.5 L435.6,142.0 L436.2,143.5 L436.9,145.0 L437.5,146.5 L438.1,148.1 L438.8,149.6 L439.4,151.1 L440.1,152.6 L440.7,154.1 L441.4,155.6 L442.1,157.1 L442.7,158.6 L443.4,160.1 L444.0,161.6 L444.7,163.1 L445.3,164.6 L445.9,166.1 L446.6,167.6 L447.2,169.1 L447.8,170.6 L448.3,172.1 L448.9,173.6 L449.5,175.1 L450.1,176.6 L450.6,178.1 L451.2,179.6 L451.7,181.1 L452.3,182.6 L452.8,184.1 L453.4,185.6 L453.9,187.1 L454.5,188.6 L455.0,190.1 L455.5,191.6 L456.1,193.1 L456.7,194.6 L457.2,196.1 L457.8,197.6 L458.3,199.1 L458.9,200.6 L459.4,202.2 L460.0,203.7 L460.6,205.2 L461.1,206.7 L461.7,208.2 L462.3,209.7 L462.8,211.2 L463.4,212.7 L464.0,214.2 L464.5,215.7 L465.1,217.2 L465.7,218.7 L466.2,220.2 L466.8,221.7 L467.4,223.2 L467.9,224.7 L468.5,226.2 L469.1,227.7 L469.6,229.2 L470.2,230.7 L470.8,232.2 L471.3,233.7 L471.9,235.2 L472.5,236.7 L473.0,238.2 L473.6,239.7 L474.2,241.2 L474.7,242.7 L475.3,244.2 L475.8,245.7 L476.4,247.2 L476.9,248.7 L477.5,250.2 L478.0,251.7 L478.6,253.2 L479.1,254.7 L479.7,256.2 L480.2,257.8 L480.8,259.3 L481.4,260.8 L481.9,262.3 L482.5,263.8 L483.1,265.3 L483.7,266.8 L484.3,268.3 L484.9,269.8 L485.5,271.3 L486.1,272.8 L486.7,274.3 L487.3,275.8 L487.9,277.3 L488.5,278.8 L489.1,280.3 L489.7,281.8 L490.3,283.3 L491.0,284.8 L491.6,286.3 L492.2,287.8 L492.8,289.3 L493.5,290.8 L494.1,292.3 L494.7,293.8 L495.4,295.3 L496.0,296.8 L496.6,298.3 L497.3,299.8 L497.9,301.3 L498.6,302.8 L499.2,304.3 L499.8,305.8 L500.5,307.3 L501.1,308.8 L501.8,310.3 L502.4,311.8 L503.1,313.4 L503.8,314.9 L504.4,316.4 L505.1,317.9 L505.8,319.4 L506.5,320.9 L507.1,322.4 L507.8,323.9 L508.5,325.4 L509.2,326.9 L509.9,328.4 L510.7,329.9 L511.4,331.4 L512.1,332.9 L512.8,334.4 L513.6,335.9 L514.3,337.4 L515.0,338.9 L515.8,340.4 L516.5,341.9 L517.3,343.4 L518.0,344.9 L518.8,346.4 L519.5,347.9 L520.3,349.4 L521.0,350.9 L521.8,352.4 L522.5,353.9 L523.3,355.4 L524.1,356.9 L524.8,358.4 L525.6,359.9 L526.3,361.4 L527.1,362.9 L527.8,364.4 L528.6,365.9 L529.3,367.5 L530.1,369.0 L530.9,370.5 L531.6,372.0 L532.4,373.5 L533.1,375.0 L533.9,376.5 L534.6,378.0 L535.4,379.5 L536.1,381.0 L536.9,382.5 L537.6,384.0 L538.4,385.5 L539.2,387.0 L539.9,388.5 L540.7,390.0 L541.4,391.5 L542.2,393.0 L543.0,394.5 L543.0,394.5 L542.2,393.0 L541.4,391.5 L540.6,390.0 L539.8,388.5 L539.0,387.0 L538.3,385.5 L537.5,384.0 L536.7,382.5 L535.9,381.0 L535.1,379.5 L534.3,378.0 L533.5,376.5 L532.7,375.0 L532.0,373.5 L531.2,372.0 L530.4,370.5 L529.6,369.0 L528.8,367.5 L528.0,365.9 L527.3,364.4 L526.5,362.9 L525.7,361.4 L524.9,359.9 L524.2,358.4 L523.4,356.9 L522.6,355.4 L521.8,353.9 L521.1,352.4 L520.3,350.9 L519.5,349.4 L518.8,347.9 L518.0,346.4 L517.2,344.9 L516.5,343.4 L515.7,341.9 L514.9,340.4 L514.1,338.9 L513.4,337.4 L512.6,335.9 L511.8,334.4 L511.0,332.9 L510.2,331.4 L509.4,329.9 L508.6,328.4 L507.8,326.9 L506.9,325.4 L506.1,323.9 L505.3,322.4 L504.4,320.9 L503.6,319.4 L502.7,317.9 L501.8,316.4 L500.9,314.9 L500.0,313.4 L499.1,311.8 L498.2,310.3 L497.3,308.8 L496.4,307.3 L495.4,305.8 L494.5,304.3 L493.6,302.8 L492.6,301.3 L491.7,299.8 L490.7,298.3 L489.8,296.8 L488.8,295.3 L487.8,293.8 L486.9,292.3 L485.9,290.8 L485.0,289.3 L484.0,287.8 L483.1,286.3 L482.1,284.8 L481.2,283.3 L480.2,281.8 L479.3,280.3 L478.3,278.8 L477.4,277.3 L476.4,275.8 L475.5,274.3 L474.6,272.8 L473.6,271.3 L472.7,269.8 L471.8,268.3 L470.9,266.8 L470.1,265.3 L469.2,263.8 L468.3,262.3 L467.4,260.8 L466.6,259.3 L465.7,257.8 L464.9,256.2 L464.1,254.7 L463.3,253.2 L462.4,251.7 L461.6,250.2 L460.8,248.7 L460.0,247.2 L459.2,245.7 L458.4,244.2 L457.7,242.7 L456.9,241.2 L456.1,239.7 L455.3,238.2 L454.5,236.7 L453.8,235.2 L453.0,233.7 L452.2,232.2 L451.4,230.7 L450.6,229.2 L449.8,227.7 L449.0,226.2 L448.3,224.7 L447.5,223.2 L446.7,221.7 L445.9,220.2 L445.2,218.7 L444.4,217.2 L443.6,215.7 L442.9,214.2 L442.1,212.7 L441.4,211.2 L440.6,209.7 L439.9,208.2 L439.2,206.7 L438.4,205.2 L437.7,203.7 L437.0,202.2 L436.3,200.6 L435.6,199.1 L434.9,197.6 L434.2,196.1 L433.5,194.6 L432.9,193.1 L432.2,191.6 L431.6,190.1 L430.9,188.6 L430.3,187.1 L429.7,185.6 L429.0,184.1 L428.4,182.6 L427.8,181.1 L427.2,179.6 L426.6,178.1 L426.0,176.6 L425.5,175.1 L424.9,173.6 L424.3,172.1 L423.8,170.6 L423.2,169.1 L422.7,167.6 L422.2,166.1 L421.7,164.6 L421.2,163.1 L420.7,161.6 L420.3,160.1 L419.8,158.6 L419.4,157.1 L418.9,155.6 L418.5,154.1 L418.1,152.6 L417.8,151.1 L417.4,149.6 L417.1,148.1 L416.8,146.5 L416.4,145.0 L416.1,143.5 L415.8,142.0 L415.6,140.5 L415.4,139.0 L415.2,137.5 L415.1,136.0 L414.9,134.5 L414.7,133.0 L414.5,131.5 L414.4,130.0 L414.3,128.5 L414.2,127.0 L414.1,125.5 L413.9,124.0 L413.9,122.5 L413.8,121.0 L413.8,119.5 L413.7,119.5 L414.3,121.0 L414.9,122.5 L415.5,124.0 L416.1,125.5 L416.7,127.0 L417.3,128.5 L417.9,130.0 L418.5,131.5 L419.1,133.0 L419.7,134.5 L420.3,136.0 L420.9,137.5 L421.6,139.0 L422.2,140.5 L422.8,142.0 L423.4,143.5 L424.0,145.0 L424.7,146.5 L425.3,148.1 L425.9,149.6 L426.6,151.1 L427.2,152.6 L427.9,154.1 L428.5,155.6 L429.2,157.1 L429.8,158.6 L430.5,160.1 L431.1,161.6 L431.7,163.1 L432.4,164.6 L433.0,166.1 L433.6,167.6 L434.2,169.1 L434.8,170.6 L435.3,172.1 L435.9,173.6 L436.5,175.1 L437.0,176.6 L437.5,178.1 L438.1,179.6 L438.6,181.1 L439.1,182.6 L439.7,184.1 L440.2,185.6 L440.7,187.1 L441.3,188.6 L441.8,190.1 L442.3,191.6 L442.9,193.1 L443.4,194.6 L443.9,196.1 L444.5,197.6 L445.0,199.1 L445.6,200.6 L446.1,202.2 L446.6,203.7 L447.2,205.2 L447.7,206.7 L448.3,208.2 L448.8,209.7 L449.3,211.2 L449.9,212.7 L450.4,214.2 L451.0,215.7 L451.5,217.2 L452.1,218.7 L452.6,220.2 L453.1,221.7 L453.7,223.2 L454.2,224.7 L454.7,226.2 L455.3,227.7 L455.8,229.2 L456.3,230.7 L456.8,232.2 L457.4,233.7 L457.9,235.2 L458.4,236.7 L458.9,238.2 L459.4,239.7 L459.9,241.2 L460.5,242.7 L461.0,244.2 L461.4,245.7 L461.9,247.2 L462.4,248.7 L462.9,250.2 L463.4,251.7 L463.8,253.2 L464.3,254.7 L464.8,256.2 L465.3,257.8 L465.8,259.3 L466.4,260.8 L466.9,262.3 L467.4,263.8 L468.0,265.3 L468.6,266.8 L469.1,268.3 L469.7,269.8 L470.3,271.3 L470.9,272.8 L471.5,274.3 L472.1,275.8 L472.7,277.3 L473.3,278.8 L473.9,280.3 L474.5,281.8 L475.1,283.3 L475.8,284.8 L476.4,286.3 L477.0,287.8 L477.7,289.3 L478.3,290.8 L479.0,292.3 L479.6,293.8 L480.3,295.3 L480.9,296.8 L481.6,298.3 L482.2,299.8 L482.8,301.3 L483.3,302.8 L483.8,304.3 L484.3,305.8 L484.9,307.3 L485.5,308.8 L486.2,310.3 L487.0,311.8 L487.7,313.4 L488.5,314.9 L489.3,316.4 L490.1,317.9 L491.0,319.4 L491.8,320.9 L492.7,322.4 L493.5,323.9 L494.3,325.4 L495.2,326.9 L496.0,328.4 L496.8,329.9 L497.6,331.4 L498.4,332.9 L499.2,334.4 L500.0,335.9 L500.8,337.4 L501.5,338.9 L502.3,340.4 L503.1,341.9 L503.9,343.4 L504.6,344.9 L505.4,346.4 L506.1,347.9 L506.9,349.4 L507.7,350.9 L508.4,352.4 L509.2,353.9 L509.9,355.4 L510.6,356.9 L511.4,358.4 L512.1,359.9 L512.9,361.4 L513.6,362.9 L514.4,364.4 L515.1,365.9 L515.8,367.5 L516.6,369.0 L517.3,370.5 L518.0,372.0 L518.7,373.5 L519.5,375.0 L520.2,376.5 L520.9,378.0 L521.6,379.5 L522.3,381.0 L523.0,382.5 L523.7,384.0 L524.4,385.5 L525.1,387.0 L525.8,388.5 L526.5,390.0 L527.1,391.5 L527.8,393.0 L528.5,394.5 L528.5,394.5 L527.7,393.0 L526.9,391.5 L526.1,390.0 L525.3,388.5 L524.6,387.0 L523.8,385.5 L523.0,384.0 L522.2,382.5 L521.4,381.0 L520.6,379.5 L519.8,378.0 L519.1,376.5 L518.3,375.0 L517.5,373.5 L516.7,372.0 L515.9,370.5 L515.1,369.0 L514.3,367.5 L513.6,365.9 L512.8,364.4 L512.0,362.9 L511.2,361.4 L510.4,359.9 L509.7,358.4 L508.9,356.9 L508.1,355.4 L507.3,353.9 L506.6,352.4 L505.8,350.9 L505.0,349.4 L504.3,347.9 L503.5,346.4 L502.7,344.9 L501.9,343.4 L501.1,341.9 L500.4,340.4 L499.6,338.9 L498.8,337.4 L498.0,335.9 L497.2,334.4 L496.4,332.9 L495.6,331.4 L494.8,329.9 L494.0,328.4 L493.2,326.9 L492.3,325.4 L491.5,323.9 L490.7,322.4 L489.8,320.9 L489.0,319.4 L488.1,317.9 L487.2,316.4 L486.4,314.9 L485.5,313.4 L484.6,311.8 L483.7,310.3 L482.8,308.8 L481.8,307.3 L480.9,305.8 L480.0,304.3 L479.1,302.8 L478.2,301.3 L477.2,299.8 L476.3,298.3 L475.3,296.8 L474.4,295.3 L473.4,293.8 L472.5,292.3 L471.5,290.8 L470.6,289.3 L469.7,287.8 L468.7,286.3 L467.8,284.8 L466.8,283.3 L465.9,281.8 L464.9,280.3 L464.0,278.8 L463.0,277.3 L462.1,275.8 L461.2,274.3 L460.2,272.8 L459.3,271.3 L458.4,269.8 L457.4,268.3 L456.5,266.8 L455.6,265.3 L454.7,263.8 L453.8,262.3 L452.9,260.8 L452.1,259.3 L451.2,257.8 L450.3,256.2 L449.5,254.7 L448.6,253.2 L447.8,251.7 L447.0,250.2 L446.1,248.7 L445.3,247.2 L444.5,245.7 L443.7,244.2 L442.9,242.7 L442.1,241.2 L441.3,239.7 L440.6,238.2 L439.8,236.7 L439.0,235.2 L438.2,233.7 L437.4,232.2 L436.6,230.7 L435.9,229.2 L435.1,227.7 L434.3,226.2 L433.5,224.7 L432.7,223.2 L432.0,221.7 L431.2,220.2 L430.5,218.7 L429.7,217.2 L428.9,215.7 L428.2,214.2 L427.4,212.7 L426.7,211.2 L426.0,209.7 L425.2,208.2 L424.5,206.7 L423.8,205.2 L423.1,203.7 L422.4,202.2 L421.7,200.6 L421.0,199.1 L420.4,197.6 L419.7,196.1 L419.0,194.6 L418.4,193.1 L417.7,191.6 L417.1,190.1 L416.5,188.6 L415.9,187.1 L415.3,185.6 L414.7,184.1 L414.1,182.6 L413.5,181.1 L412.9,179.6 L412.3,178.1 L411.8,176.6 L411.2,175.1 L410.7,173.6 L410.2,172.1 L409.7,170.6 L409.2,169.1 L408.7,167.6 L408.2,166.1 L407.8,164.6 L407.4,163.1 L407.0,161.6 L406.6,160.1 L406.2,158.6 L405.8,157.1 L405.5,155.6 L405.1,154.1 L404.8,152.6 L404.6,151.1 L404.3,149.6 L404.0,148.1 L403.8,146.5 L403.5,145.0 L403.3,143.5 L403.1,142.0 L402.9,140.5 L402.8,139.0 L402.7,137.5 L402.7,136.0 L402.5,134.5 L402.4,133.0 L402.3,131.5 L402.2,130.0 L402.2,128.5 L402.2,127.0 L402.1,125.5 L402.1,124.0 L402.1,122.5 L402.1,121.0 L402.1,119.5 L402.1,119.5 L402.7,121.0 L403.3,122.5 L403.9,124.0 L404.5,125.5 L405.1,127.0 L405.7,128.5 L406.3,130.0 L406.9,131.5 L407.5,133.0 L408.1,134.5 L408.7,136.0 L409.3,137.5 L409.9,139.0 L410.5,140.5 L411.1,142.0 L411.8,143.5 L412.4,145.0 L413.0,146.5 L413.6,148.1 L414.3,149.6 L414.9,151.1 L415.6,152.6 L416.2,154.1 L416.9,155.6 L417.5,157.1 L418.2,158.6 L418.8,160.1 L419.4,161.6 L420.0,163.1 L420.7,164.6 L421.3,166.1 L421.8,167.6 L422.4,169.1 L423.0,170.6 L423.5,172.1 L424.0,173.6 L424.6,175.1 L425.1,176.6 L425.6,178.1 L426.1,179.6 L426.6,181.1 L427.1,182.6 L427.6,184.1 L428.1,185.6 L428.6,187.1 L429.1,188.6 L429.6,190.1 L430.1,191.6 L430.6,193.1 L431.2,194.6 L431.7,196.1 L432.2,197.6 L432.7,199.1 L433.2,200.6 L433.7,202.2 L434.2,203.7 L434.8,205.2 L435.3,206.7 L435.8,208.2 L436.3,209.7 L436.8,211.2 L437.3,212.7 L437.9,214.2 L438.4,215.7 L438.9,217.2 L439.4,218.7 L439.9,220.2 L440.4,221.7 L440.9,223.2 L441.4,224.7 L441.9,226.2 L442.4,227.7 L442.9,229.2 L443.4,230.7 L443.9,232.2 L444.3,233.7 L444.8,235.2 L445.3,236.7 L445.8,238.2 L446.2,239.7 L446.7,241.2 L447.2,242.7 L447.6,244.2 L448.0,245.7 L448.5,247.2 L448.9,248.7 L449.3,250.2 L449.7,251.7 L450.1,253.2 L450.5,254.7 L451.0,256.2 L451.4,257.8 L451.9,259.3 L452.4,260.8 L452.8,262.3 L453.3,263.8 L453.9,265.3 L454.4,266.8 L454.9,268.3 L455.5,269.8 L456.1,271.3 L456.6,272.8 L457.2,274.3 L457.8,275.8 L458.4,277.3 L459.0,278.8 L459.6,280.3 L460.2,281.8 L460.9,283.3 L461.5,284.8 L462.1,286.3 L462.8,287.8 L463.4,289.3 L464.1,290.8 L464.7,292.3 L465.4,293.8 L466.1,295.3 L466.8,296.8 L467.4,298.3 L468.0,299.8 L468.6,301.3 L469.1,302.8 L469.5,304.3 L470.0,305.8 L470.6,307.3 L471.2,308.8 L471.8,310.3 L472.5,311.8 L473.2,313.4 L473.9,314.9 L474.7,316.4 L475.5,317.9 L476.2,319.4 L477.1,320.9 L477.9,322.4 L478.7,323.9 L479.6,325.4 L480.4,326.9 L481.2,328.4 L482.0,329.9 L482.8,331.4 L483.7,332.9 L484.5,334.4 L485.3,335.9 L486.1,337.4 L486.9,338.9 L487.6,340.4 L488.4,341.9 L489.2,343.4 L490.0,344.9 L490.8,346.4 L491.6,347.9 L492.3,349.4 L493.1,350.9 L493.9,352.4 L494.7,353.9 L495.4,355.4 L496.2,356.9 L497.0,358.4 L497.7,359.9 L498.5,361.4 L499.3,362.9 L500.0,364.4 L500.8,365.9 L501.6,367.5 L502.3,369.0 L503.1,370.5 L503.9,372.0 L504.6,373.5 L505.4,375.0 L506.1,376.5 L506.9,378.0 L507.6,379.5 L508.4,381.0 L509.1,382.5 L509.9,384.0 L510.6,385.5 L511.3,387.0 L512.1,388.5 L512.8,390.0 L513.5,391.5 L514.3,393.0 L515.0,394.5 L515.0,394.5 L514.2,393.0 L513.4,391.5 L512.6,390.0 L511.9,388.5 L511.1,387.0 L510.3,385.5 L509.5,384.0 L508.7,382.5 L508.0,381.0 L507.2,379.5 L506.4,378.0 L505.6,376.5 L504.8,375.0 L504.0,373.5 L503.3,372.0 L502.5,370.5 L501.7,369.0 L500.9,367.5 L500.1,365.9 L499.3,364.4 L498.5,362.9 L497.7,361.4 L497.0,359.9 L496.2,358.4 L495.4,356.9 L494.6,355.4 L493.8,353.9 L493.1,352.4 L492.3,350.9 L491.5,349.4 L490.7,347.9 L489.9,346.4 L489.1,344.9 L488.3,343.4 L487.6,341.9 L486.8,340.4 L486.0,338.9 L485.2,337.4 L484.4,335.9 L483.6,334.4 L482.8,332.9 L482.0,331.4 L481.1,329.9 L480.3,328.4 L479.5,326.9 L478.7,325.4 L477.8,323.9 L477.0,322.4 L476.2,320.9 L475.3,319.4 L474.5,317.9 L473.6,316.4 L472.7,314.9 L471.9,313.4 L471.0,311.8 L470.1,310.3 L469.2,308.8 L468.3,307.3 L467.4,305.8 L466.5,304.3 L465.6,302.8 L464.7,301.3 L463.8,299.8 L462.8,298.3 L461.9,296.8 L461.0,295.3 L460.1,293.8 L459.1,292.3 L458.2,290.8 L457.3,289.3 L456.3,287.8 L455.4,286.3 L454.5,284.8 L453.6,283.3 L452.6,281.8 L451.7,280.3 L450.7,278.8 L449.8,277.3 L448.9,275.8 L447.9,274.3 L447.0,272.8 L446.0,271.3 L445.1,269.8 L444.1,268.3 L443.2,266.8 L442.3,265.3 L441.3,263.8 L440.4,262.3 L439.5,260.8 L438.6,259.3 L437.6,257.8 L436.7,256.2 L435.8,254.7 L434.9,253.2 L434.0,251.7 L433.2,250.2 L432.3,248.7 L431.4,247.2 L430.6,245.7 L429.8,244.2 L428.9,242.7 L428.1,241.2 L427.3,239.7 L426.6,238.2 L425.8,236.7 L425.0,235.2 L424.2,233.7 L423.4,232.2 L422.6,230.7 L421.8,229.2 L421.1,227.7 L420.3,226.2 L419.5,224.7 L418.8,223.2 L418.0,221.7 L417.3,220.2 L416.5,218.7 L415.8,217.2 L415.0,215.7 L414.3,214.2 L413.6,212.7 L412.9,211.2 L412.1,209.7 L411.4,208.2 L410.8,206.7 L410.1,205.2 L409.4,203.7 L408.7,202.2 L408.1,200.6 L407.4,199.1 L406.8,197.6 L406.1,196.1 L405.5,194.6 L404.9,193.1 L404.3,191.6 L403.7,190.1 L403.1,188.6 L402.5,187.1 L402.0,185.6 L401.4,184.1 L400.8,182.6 L400.3,181.1 L399.8,179.6 L399.2,178.1 L398.7,176.6 L398.2,175.1 L397.7,173.6 L397.3,172.1 L396.8,170.6 L396.4,169.1 L396.0,167.6 L395.6,166.1 L395.3,164.6 L394.9,163.1 L394.6,161.6 L394.3,160.1 L394.0,158.6 L393.7,157.1 L393.5,155.6 L393.2,154.1 L393.0,152.6 L392.8,151.1 L392.6,149.6 L392.5,148.1 L392.3,146.5 L392.1,145.0 L391.9,143.5 L391.8,142.0 L391.7,140.5 L391.7,139.0 L391.7,137.5 L391.7,136.0 L391.6,134.5 L391.6,133.0 L391.5,131.5 L391.5,130.0 L391.6,128.5 L391.6,127.0 L391.6,125.5 L391.7,124.0 L391.7,122.5 L391.8,121.0 L391.9,119.5 L391.9,119.5 L392.5,121.0 L393.1,122.5 L393.7,124.0 L394.3,125.5 L394.9,127.0 L395.4,128.5 L396.0,130.0 L396.6,131.5 L397.2,133.0 L397.8,134.5 L398.4,136.0 L399.0,137.5 L399.6,139.0 L400.3,140.5 L400.9,142.0 L401.5,143.5 L402.1,145.0 L402.7,146.5 L403.3,148.1 L404.0,149.6 L404.6,151.1 L405.2,152.6 L405.9,154.1 L406.5,155.6 L407.1,157.1 L407.8,158.6 L408.4,160.1 L409.0,161.6 L409.6,163.1 L410.2,164.6 L410.8,166.1 L411.3,167.6 L411.8,169.1 L412.4,170.6 L412.9,172.1 L413.4,173.6 L413.9,175.1 L414.4,176.6 L414.9,178.1 L415.3,179.6 L415.8,181.1 L416.3,182.6 L416.8,184.1 L417.2,185.6 L417.7,187.1 L418.1,188.6 L418.6,190.1 L419.1,191.6 L419.5,193.1 L420.0,194.6 L420.5,196.1 L420.9,197.6 L421.4,199.1 L421.9,200.6 L422.3,202.2 L422.8,203.7 L423.3,205.2 L423.8,206.7 L424.2,208.2 L424.7,209.7 L425.2,211.2 L425.6,212.7 L426.1,214.2 L426.6,215.7 L427.1,217.2 L427.5,218.7 L428.0,220.2 L428.5,221.7 L429.0,223.2 L429.4,224.7 L429.9,226.2 L430.4,227.7 L430.8,229.2 L431.3,230.7 L431.7,232.2 L432.2,233.7 L432.6,235.2 L433.1,236.7 L433.5,238.2 L434.0,239.7 L434.4,241.2 L434.9,242.7 L435.3,244.2 L435.7,245.7 L436.1,247.2 L436.5,248.7 L436.8,250.2 L437.2,251.7 L437.6,253.2 L438.0,254.7 L438.4,256.2 L438.9,257.8 L439.3,259.3 L439.7,260.8 L440.2,262.3 L440.7,263.8 L441.2,265.3 L441.7,266.8 L442.2,268.3 L442.8,269.8 L443.3,271.3 L443.9,272.8 L444.4,274.3 L445.0,275.8 L445.6,277.3 L446.2,278.8 L446.8,280.3 L447.4,281.8 L448.0,283.3 L448.6,284.8 L449.3,286.3 L449.9,287.8 L450.5,289.3 L451.2,290.8 L451.8,292.3 L452.5,293.8 L453.1,295.3 L453.8,296.8 L454.5,298.3 L455.1,299.8 L455.7,301.3 L456.2,302.8 L456.6,304.3 L457.2,305.8 L457.7,307.3 L458.3,308.8 L459.0,310.3 L459.7,311.8 L460.4,313.4 L461.2,314.9 L461.9,316.4 L462.7,317.9 L463.5,319.4 L464.3,320.9 L465.2,322.4 L466.0,323.9 L466.9,325.4 L467.7,326.9 L468.5,328.4 L469.4,329.9 L470.2,331.4 L471.0,332.9 L471.8,334.4 L472.7,335.9 L473.5,337.4 L474.3,338.9 L475.1,340.4 L475.9,341.9 L476.7,343.4 L477.5,344.9 L478.3,346.4 L479.1,347.9 L479.9,349.4 L480.7,350.9 L481.5,352.4 L482.3,353.9 L483.1,355.4 L483.8,356.9 L484.6,358.4 L485.4,359.9 L486.2,361.4 L486.9,362.9 L487.7,364.4 L488.5,365.9 L489.3,367.5 L490.0,369.0 L490.8,370.5 L491.5,372.0 L492.3,373.5 L493.0,375.0 L493.8,376.5 L494.5,378.0 L495.3,379.5 L496.0,381.0 L496.7,382.5 L497.5,384.0 L498.2,385.5 L498.9,387.0 L499.6,388.5 L500.4,390.0 L501.1,391.5 L501.8,393.0 L502.5,394.5 L502.5,394.5 L501.7,393.0 L500.9,391.5 L500.1,390.0 L499.4,388.5 L498.6,387.0 L497.8,385.5 L497.0,384.0 L496.3,382.5 L495.5,381.0 L494.7,379.5 L493.9,378.0 L493.1,376.5 L492.3,375.0 L491.5,373.5 L490.8,372.0 L490.0,370.5 L489.2,369.0 L488.4,367.5 L487.6,365.9 L486.8,364.4 L486.0,362.9 L485.2,361.4 L484.4,359.9 L483.6,358.4 L482.8,356.9 L482.0,355.4 L481.2,353.9 L480.4,352.4 L479.6,350.9 L478.8,349.4 L478.0,347.9 L477.2,346.4 L476.4,344.9 L475.5,343.4 L474.7,341.9 L473.9,340.4 L473.1,338.9 L472.3,337.4 L471.5,335.9 L470.6,334.4 L469.8,332.9 L469.0,331.4 L468.2,329.9 L467.3,328.4 L466.5,326.9 L465.7,325.4 L464.8,323.9 L464.0,322.4 L463.2,320.9 L462.3,319.4 L461.5,317.9 L460.6,316.4 L459.7,314.9 L458.8,313.4 L458.0,311.8 L457.1,310.3 L456.2,308.8 L455.3,307.3 L454.4,305.8 L453.5,304.3 L452.6,302.8 L451.7,301.3 L450.8,299.8 L449.9,298.3 L449.0,296.8 L448.1,295.3 L447.2,293.8 L446.3,292.3 L445.3,290.8 L444.4,289.3 L443.5,287.8 L442.6,286.3 L441.6,284.8 L440.7,283.3 L439.8,281.8 L438.8,280.3 L437.9,278.8 L436.9,277.3 L436.0,275.8 L435.0,274.3 L434.0,272.8 L433.1,271.3 L432.1,269.8 L431.2,268.3 L430.2,266.8 L429.2,265.3 L428.3,263.8 L427.3,262.3 L426.3,260.8 L425.4,259.3 L424.4,257.8 L423.4,256.2 L422.5,254.7 L421.5,253.2 L420.6,251.7 L419.7,250.2 L418.8,248.7 L417.8,247.2 L417.0,245.7 L416.1,244.2 L415.3,242.7 L414.4,241.2 L413.6,239.7 L412.8,238.2 L412.1,236.7 L411.3,235.2 L410.5,233.7 L409.7,232.2 L408.9,230.7 L408.1,229.2 L407.3,227.7 L406.6,226.2 L405.8,224.7 L405.1,223.2 L404.3,221.7 L403.6,220.2 L402.9,218.7 L402.1,217.2 L401.4,215.7 L400.7,214.2 L400.0,212.7 L399.3,211.2 L398.6,209.7 L398.0,208.2 L397.3,206.7 L396.7,205.2 L396.0,203.7 L395.4,202.2 L394.8,200.6 L394.2,199.1 L393.6,197.6 L393.0,196.1 L392.4,194.6 L391.8,193.1 L391.3,191.6 L390.7,190.1 L390.2,188.6 L389.7,187.1 L389.2,185.6 L388.7,184.1 L388.2,182.6 L387.7,181.1 L387.2,179.6 L386.7,178.1 L386.3,176.6 L385.9,175.1 L385.4,173.6 L385.0,172.1 L384.7,170.6 L384.3,169.1 L384.0,167.6 L383.7,166.1 L383.5,164.6 L383.2,163.1 L383.0,161.6 L382.7,160.1 L382.5,158.6 L382.3,157.1 L382.1,155.6 L382.0,154.1 L381.8,152.6 L381.7,151.1 L381.6,149.6 L381.5,148.1 L381.4,146.5 L381.3,145.0 L381.1,143.5 L381.1,142.0 L381.0,140.5 L381.1,139.0 L381.1,137.5 L381.1,136.0 L381.1,134.5 L381.1,133.0 L381.1,131.5 L381.1,130.0 L381.2,128.5 L381.4,127.0 L381.5,125.5 L381.6,124.0 L381.7,122.5 L381.9,121.0 L382.1,119.5 L382.1,119.5 L382.7,121.0 L383.3,122.5 L383.9,124.0 L384.4,125.5 L385.0,127.0 L385.6,128.5 L386.2,130.0 L386.8,131.5 L387.4,133.0 L388.0,134.5 L388.6,136.0 L389.2,137.5 L389.8,139.0 L390.4,140.5 L391.0,142.0 L391.6,143.5 L392.3,145.0 L392.9,146.5 L393.5,148.1 L394.1,149.6 L394.7,151.1 L395.4,152.6 L396.0,154.1 L396.6,155.6 L397.2,157.1 L397.8,158.6 L398.4,160.1 L399.0,161.6 L399.6,163.1 L400.1,164.6 L400.7,166.1 L401.2,167.6 L401.8,169.1 L402.3,170.6 L402.8,172.1 L403.3,173.6 L403.7,175.1 L404.2,176.6 L404.7,178.1 L405.2,179.6 L405.6,181.1 L406.1,182.6 L406.5,184.1 L406.9,185.6 L407.4,187.1 L407.8,188.6 L408.2,190.1 L408.6,191.6 L409.0,193.1 L409.4,194.6 L409.9,196.1 L410.3,197.6 L410.7,199.1 L411.1,200.6 L411.5,202.2 L411.9,203.7 L412.3,205.2 L412.7,206.7 L413.1,208.2 L413.5,209.7 L413.9,211.2 L414.3,212.7 L414.7,214.2 L415.1,215.7 L415.6,217.2 L416.0,218.7 L416.4,220.2 L416.8,221.7 L417.3,223.2 L417.7,224.7 L418.1,226.2 L418.6,227.7 L419.0,229.2 L419.5,230.7 L419.9,232.2 L420.3,233.7 L420.8,235.2 L421.2,236.7 L421.7,238.2 L422.2,239.7 L422.6,241.2 L423.1,242.7 L423.5,244.2 L423.9,245.7 L424.4,247.2 L424.8,248.7 L425.2,250.2 L425.6,251.7 L426.0,253.2 L426.5,254.7 L426.9,256.2 L427.3,257.8 L427.8,259.3 L428.2,260.8 L428.7,262.3 L429.2,263.8 L429.7,265.3 L430.2,266.8 L430.7,268.3 L431.2,269.8 L431.8,271.3 L432.3,272.8 L432.9,274.3 L433.4,275.8 L434.0,277.3 L434.6,278.8 L435.1,280.3 L435.7,281.8 L436.3,283.3 L436.9,284.8 L437.5,286.3 L438.1,287.8 L438.7,289.3 L439.4,290.8 L440.0,292.3 L440.6,293.8 L441.3,295.3 L441.9,296.8 L442.6,298.3 L443.2,299.8 L443.8,301.3 L444.3,302.8 L444.8,304.3 L445.4,305.8 L446.0,307.3 L446.7,308.8 L447.4,310.3 L448.1,311.8 L448.9,313.4 L449.7,314.9 L450.5,316.4 L451.3,317.9 L452.2,319.4 L453.0,320.9 L453.9,322.4 L454.7,323.9 L455.6,325.4 L456.4,326.9 L457.2,328.4 L458.1,329.9 L458.9,331.4 L459.7,332.9 L460.6,334.4 L461.4,335.9 L462.2,337.4 L463.1,338.9 L463.9,340.4 L464.7,341.9 L465.5,343.4 L466.4,344.9 L467.2,346.4 L468.0,347.9 L468.8,349.4 L469.6,350.9 L470.4,352.4 L471.2,353.9 L472.0,355.4 L472.8,356.9 L473.6,358.4 L474.4,359.9 L475.1,361.4 L475.9,362.9 L476.7,364.4 L477.5,365.9 L478.2,367.5 L479.0,369.0 L479.7,370.5 L480.5,372.0 L481.2,373.5 L482.0,375.0 L482.7,376.5 L483.4,378.0 L484.1,379.5 L484.8,381.0 L485.5,382.5 L486.2,384.0 L486.9,385.5 L487.6,387.0 L488.3,388.5 L489.0,390.0 L489.7,391.5 L490.3,393.0 L491.0,394.5 L491.0,394.5 L490.2,393.0 L489.4,391.5 L488.6,390.0 L487.9,388.5 L487.1,387.0 L486.3,385.5 L485.5,384.0 L484.7,382.5 L483.9,381.0 L483.1,379.5 L482.3,378.0 L481.6,376.5 L480.8,375.0 L480.0,373.5 L479.2,372.0 L478.4,370.5 L477.6,369.0 L476.7,367.5 L475.9,365.9 L475.1,364.4 L474.3,362.9 L473.5,361.4 L472.7,359.9 L471.9,358.4 L471.0,356.9 L470.2,355.4 L469.4,353.9 L468.6,352.4 L467.8,350.9 L466.9,349.4 L466.1,347.9 L465.3,346.4 L464.4,344.9 L463.6,343.4 L462.8,341.9 L461.9,340.4 L461.1,338.9 L460.3,337.4 L459.4,335.9 L458.6,334.4 L457.8,332.9 L456.9,331.4 L456.1,329.9 L455.2,328.4 L454.4,326.9 L453.6,325.4 L452.7,323.9 L451.9,322.4 L451.0,320.9 L450.2,319.4 L449.3,317.9 L448.5,316.4 L447.6,314.9 L446.7,313.4 L445.8,311.8 L444.9,310.3 L444.1,308.8 L443.2,307.3 L442.3,305.8 L441.4,304.3 L440.5,302.8 L439.6,301.3 L438.7,299.8 L437.7,298.3 L436.8,296.8 L435.9,295.3 L434.9,293.8 L434.0,292.3 L433.1,290.8 L432.1,289.3 L431.2,287.8 L430.3,286.3 L429.3,284.8 L428.4,283.3 L427.4,281.8 L426.5,280.3 L425.5,278.8 L424.6,277.3 L423.6,275.8 L422.6,274.3 L421.6,272.8 L420.6,271.3 L419.7,269.8 L418.7,268.3 L417.7,266.8 L416.7,265.3 L415.7,263.8 L414.7,262.3 L413.7,260.8 L412.7,259.3 L411.7,257.8 L410.7,256.2 L409.7,254.7 L408.7,253.2 L407.7,251.7 L406.8,250.2 L405.8,248.7 L404.9,247.2 L403.9,245.7 L403.0,244.2 L402.2,242.7 L401.4,241.2 L400.5,239.7 L399.7,238.2 L399.0,236.7 L398.2,235.2 L397.4,233.7 L396.6,232.2 L395.8,230.7 L395.1,229.2 L394.3,227.7 L393.6,226.2 L392.9,224.7 L392.1,223.2 L391.4,221.7 L390.7,220.2 L390.0,218.7 L389.3,217.2 L388.6,215.7 L387.9,214.2 L387.3,212.7 L386.6,211.2 L386.0,209.7 L385.3,208.2 L384.7,206.7 L384.1,205.2 L383.5,203.7 L382.9,202.2 L382.4,200.6 L381.8,199.1 L381.2,197.6 L380.7,196.1 L380.2,194.6 L379.6,193.1 L379.1,191.6 L378.6,190.1 L378.2,188.6 L377.7,187.1 L377.2,185.6 L376.8,184.1 L376.3,182.6 L375.9,181.1 L375.4,179.6 L375.0,178.1 L374.6,176.6 L374.3,175.1 L373.9,173.6 L373.6,172.1 L373.3,170.6 L373.0,169.1 L372.8,167.6 L372.6,166.1 L372.4,164.6 L372.2,163.1 L372.1,161.6 L371.9,160.1 L371.8,158.6 L371.6,157.1 L371.5,155.6 L371.4,154.1 L371.3,152.6 L371.3,151.1 L371.2,149.6 L371.2,148.1 L371.1,146.5 L371.0,145.0 L371.0,143.5 L370.9,142.0 L370.9,140.5 L371.0,139.0 L371.0,137.5 L371.1,136.0 L371.1,134.5 L371.2,133.0 L371.2,131.5 L371.2,130.0 L371.4,128.5 L371.6,127.0 L371.8,125.5 L371.9,124.0 L372.1,122.5 L372.4,121.0 L372.7,119.5 L372.7,119.5 L373.3,121.0 L373.9,122.5 L374.5,124.0 L375.0,125.5 L375.6,127.0 L376.2,128.5 L376.8,130.0 L377.4,131.5 L377.9,133.0 L378.5,134.5 L379.1,136.0 L379.7,137.5 L380.3,139.0 L380.9,140.5 L381.5,142.0 L382.2,143.5 L382.8,145.0 L383.4,146.5 L384.0,148.1 L384.6,149.6 L385.2,151.1 L385.8,152.6 L386.4,154.1 L387.0,155.6 L387.6,157.1 L388.1,158.6 L388.7,160.1 L389.3,161.6 L389.8,163.1 L390.3,164.6 L390.9,166.1 L391.4,167.6 L391.9,169.1 L392.4,170.6 L392.9,172.1 L393.4,173.6 L393.8,175.1 L394.3,176.6 L394.8,178.1 L395.2,179.6 L395.6,181.1 L396.1,182.6 L396.5,184.1 L396.9,185.6 L397.3,187.1 L397.6,188.6 L398.0,190.1 L398.4,191.6 L398.7,193.1 L399.1,194.6 L399.4,196.1 L399.8,197.6 L400.1,199.1 L400.4,200.6 L400.8,202.2 L401.1,203.7 L401.4,205.2 L401.7,206.7 L402.1,208.2 L402.4,209.7 L402.7,211.2 L403.1,212.7 L403.4,214.2 L403.8,215.7 L404.1,217.2 L404.5,218.7 L404.8,220.2 L405.2,221.7 L405.6,223.2 L406.0,224.7 L406.4,226.2 L406.8,227.7 L407.2,229.2 L407.6,230.7 L408.1,232.2 L408.5,233.7 L408.9,235.2 L409.4,236.7 L409.8,238.2 L410.3,239.7 L410.8,241.2 L411.2,242.7 L411.7,244.2 L412.1,245.7 L412.6,247.2 L413.0,248.7 L413.5,250.2 L413.9,251.7 L414.4,253.2 L414.8,254.7 L415.2,256.2 L415.7,257.8 L416.1,259.3 L416.6,260.8 L417.0,262.3 L417.5,263.8 L417.9,265.3 L418.4,266.8 L418.9,268.3 L419.4,269.8 L419.9,271.3 L420.4,272.8 L420.9,274.3 L421.4,275.8 L421.9,277.3 L422.4,278.8 L423.0,280.3 L423.5,281.8 L424.1,283.3 L424.6,284.8 L425.2,286.3 L425.8,287.8 L426.4,289.3 L427.0,290.8 L427.6,292.3 L428.2,293.8 L428.8,295.3 L429.4,296.8 L430.1,298.3 L430.7,299.8 L431.3,301.3 L431.8,302.8 L432.4,304.3 L433.0,305.8 L433.6,307.3 L434.3,308.8 L435.1,310.3 L435.8,311.8 L436.6,313.4 L437.4,314.9 L438.2,316.4 L439.0,317.9 L439.9,319.4 L440.7,320.9 L441.5,322.4 L442.3,323.9 L443.2,325.4 L444.0,326.9 L444.8,328.4 L445.6,329.9 L446.5,331.4 L447.3,332.9 L448.1,334.4 L449.0,335.9 L449.8,337.4 L450.6,338.9 L451.4,340.4 L452.3,341.9 L453.1,343.4 L453.9,344.9 L454.7,346.4 L455.5,347.9 L456.3,349.4 L457.2,350.9 L458.0,352.4 L458.8,353.9 L459.6,355.4 L460.3,356.9 L461.1,358.4 L461.9,359.9 L462.7,361.4 L463.5,362.9 L464.2,364.4 L465.0,365.9 L465.8,367.5 L466.5,369.0 L467.3,370.5 L468.0,372.0 L468.8,373.5 L469.5,375.0 L470.2,376.5 L470.9,378.0 L471.7,379.5 L472.4,381.0 L473.1,382.5 L473.8,384.0 L474.5,385.5 L475.1,387.0 L475.8,388.5 L476.5,390.0 L477.2,391.5 L477.8,393.0 L478.5,394.5 L478.5,394.5 L477.7,393.0 L476.9,391.5 L476.1,390.0 L475.4,388.5 L474.6,387.0 L473.8,385.5 L473.0,384.0 L472.2,382.5 L471.5,381.0 L470.7,379.5 L469.9,378.0 L469.1,376.5 L468.3,375.0 L467.5,373.5 L466.7,372.0 L465.9,370.5 L465.1,369.0 L464.3,367.5 L463.5,365.9 L462.7,364.4 L461.9,362.9 L461.0,361.4 L460.2,359.9 L459.4,358.4 L458.6,356.9 L457.8,355.4 L456.9,353.9 L456.1,352.4 L455.3,350.9 L454.5,349.4 L453.6,347.9 L452.8,346.4 L452.0,344.9 L451.1,343.4 L450.3,341.9 L449.5,340.4 L448.6,338.9 L447.8,337.4 L447.0,335.9 L446.1,334.4 L445.3,332.9 L444.5,331.4 L443.6,329.9 L442.8,328.4 L442.0,326.9 L441.2,325.4 L440.3,323.9 L439.5,322.4 L438.7,320.9 L437.9,319.4 L437.0,317.9 L436.2,316.4 L435.3,314.9 L434.5,313.4 L433.6,311.8 L432.7,310.3 L431.9,308.8 L431.0,307.3 L430.1,305.8 L429.2,304.3 L428.3,302.8 L427.4,301.3 L426.5,299.8 L425.5,298.3 L424.6,296.8 L423.6,295.3 L422.7,293.8 L421.7,292.3 L420.8,290.8 L419.8,289.3 L418.9,287.8 L417.9,286.3 L416.9,284.8 L416.0,283.3 L415.0,281.8 L414.0,280.3 L413.1,278.8 L412.1,277.3 L411.1,275.8 L410.1,274.3 L409.2,272.8 L408.2,271.3 L407.2,269.8 L406.2,268.3 L405.2,266.8 L404.3,265.3 L403.3,263.8 L402.3,262.3 L401.3,260.8 L400.3,259.3 L399.3,257.8 L398.3,256.2 L397.3,254.7 L396.3,253.2 L395.3,251.7 L394.3,250.2 L393.3,248.7 L392.4,247.2 L391.5,245.7 L390.6,244.2 L389.7,242.7 L388.9,241.2 L388.1,239.7 L387.3,238.2 L386.5,236.7 L385.7,235.2 L385.0,233.7 L384.2,232.2 L383.4,230.7 L382.7,229.2 L382.0,227.7 L381.2,226.2 L380.5,224.7 L379.8,223.2 L379.1,221.7 L378.4,220.2 L377.7,218.7 L377.0,217.2 L376.4,215.7 L375.7,214.2 L375.0,212.7 L374.4,211.2 L373.8,209.7 L373.2,208.2 L372.6,206.7 L372.0,205.2 L371.4,203.7 L370.9,202.2 L370.3,200.6 L369.8,199.1 L369.3,197.6 L368.8,196.1 L368.3,194.6 L367.8,193.1 L367.4,191.6 L366.9,190.1 L366.5,188.6 L366.1,187.1 L365.7,185.6 L365.3,184.1 L365.0,182.6 L364.6,181.1 L364.3,179.6 L363.9,178.1 L363.6,176.6 L363.4,175.1 L363.1,173.6 L362.9,172.1 L362.7,170.6 L362.5,169.1 L362.4,167.6 L362.2,166.1 L362.1,164.6 L362.1,163.1 L362.0,161.6 L361.9,160.1 L361.8,158.6 L361.8,157.1 L361.7,155.6 L361.7,154.1 L361.7,152.6 L361.7,151.1 L361.7,149.6 L361.7,148.1 L361.6,146.5 L361.6,145.0 L361.6,143.5 L361.6,142.0 L361.6,140.5 L361.7,139.0 L361.8,137.5 L362.0,136.0 L362.1,134.5 L362.1,133.0 L362.2,131.5 L362.3,130.0 L362.6,128.5 L362.8,127.0 L363.1,125.5 L363.3,124.0 L363.6,122.5 L363.9,121.0 L364.3,119.5 L364.3,119.5 L364.9,121.0 L365.4,122.5 L366.0,124.0 L366.5,125.5 L367.1,127.0 L367.7,128.5 L368.2,130.0 L368.8,131.5 L369.3,133.0 L369.9,134.5 L370.5,136.0 L371.1,137.5 L371.7,139.0 L372.2,140.5 L372.8,142.0 L373.4,143.5 L374.0,145.0 L374.6,146.5 L375.2,148.1 L375.8,149.6 L376.4,151.1 L376.9,152.6 L377.5,154.1 L378.0,155.6 L378.6,157.1 L379.1,158.6 L379.6,160.1 L380.2,161.6 L380.7,163.1 L381.2,164.6 L381.7,166.1 L382.2,167.6 L382.7,169.1 L383.1,170.6 L383.6,172.1 L384.1,173.6 L384.5,175.1 L385.0,176.6 L385.4,178.1 L385.9,179.6 L386.3,181.1 L386.7,182.6 L387.1,184.1 L387.5,185.6 L387.9,187.1 L388.2,188.6 L388.6,190.1 L388.9,191.6 L389.2,193.1 L389.5,194.6 L389.9,196.1 L390.2,197.6 L390.5,199.1 L390.8,200.6 L391.1,202.2 L391.4,203.7 L391.6,205.2 L391.9,206.7 L392.2,208.2 L392.4,209.7 L392.7,211.2 L393.0,212.7 L393.3,214.2 L393.6,215.7 L393.9,217.2 L394.2,218.7 L394.5,220.2 L394.8,221.7 L395.1,223.2 L395.4,224.7 L395.8,226.2 L396.1,227.7 L396.5,229.2 L396.8,230.7 L397.2,232.2 L397.6,233.7 L398.0,235.2 L398.4,236.7 L398.8,238.2 L399.2,239.7 L399.7,241.2 L400.1,242.7 L400.5,244.2 L400.9,245.7 L401.4,247.2 L401.8,248.7 L402.2,250.2 L402.6,251.7 L403.1,253.2 L403.5,254.7 L403.9,256.2 L404.3,257.8 L404.7,259.3 L405.1,260.8 L405.5,262.3 L405.9,263.8 L406.3,265.3 L406.8,266.8 L407.2,268.3 L407.6,269.8 L408.0,271.3 L408.5,272.8 L408.9,274.3 L409.4,275.8 L409.9,277.3 L410.4,278.8 L410.8,280.3 L411.4,281.8 L411.9,283.3 L412.4,284.8 L412.9,286.3 L413.5,287.8 L414.0,289.3 L414.6,290.8 L415.1,292.3 L415.7,293.8 L416.3,295.3 L416.9,296.8 L417.6,298.3 L418.2,299.8 L418.8,301.3 L419.4,302.8 L420.0,304.3 L420.6,305.8 L421.3,307.3 L422.0,308.8 L422.8,310.3 L423.6,311.8 L424.4,313.4 L425.2,314.9 L426.0,316.4 L426.8,317.9 L427.7,319.4 L428.5,320.9 L429.3,322.4 L430.1,323.9 L430.9,325.4 L431.7,326.9 L432.6,328.4 L433.4,329.9 L434.2,331.4 L435.0,332.9 L435.8,334.4 L436.7,335.9 L437.5,337.4 L438.3,338.9 L439.1,340.4 L440.0,341.9 L440.8,343.4 L441.6,344.9 L442.4,346.4 L443.2,347.9 L444.0,349.4 L444.8,350.9 L445.6,352.4 L446.4,353.9 L447.2,355.4 L448.0,356.9 L448.8,358.4 L449.6,359.9 L450.4,361.4 L451.1,362.9 L451.9,364.4 L452.7,365.9 L453.4,367.5 L454.2,369.0 L454.9,370.5 L455.7,372.0 L456.4,373.5 L457.1,375.0 L457.8,376.5 L458.5,378.0 L459.2,379.5 L459.9,381.0 L460.6,382.5 L461.3,384.0 L462.0,385.5 L462.7,387.0 L463.3,388.5 L464.0,390.0 L464.7,391.5 L465.3,393.0 L466.0,394.5 L466.0,394.5 L465.2,393.0 L464.5,391.5 L463.7,390.0 L462.9,388.5 L462.1,387.0 L461.4,385.5 L460.6,384.0 L459.8,382.5 L459.0,381.0 L458.3,379.5 L457.5,378.0 L456.7,376.5 L455.9,375.0 L455.1,373.5 L454.3,372.0 L453.5,370.5 L452.7,369.0 L451.9,367.5 L451.1,365.9 L450.3,364.4 L449.5,362.9 L448.7,361.4 L447.9,359.9 L447.1,358.4 L446.3,356.9 L445.4,355.4 L444.6,353.9 L443.8,352.4 L443.0,350.9 L442.2,349.4 L441.3,347.9 L440.5,346.4 L439.7,344.9 L438.8,343.4 L438.0,341.9 L437.2,340.4 L436.3,338.9 L435.5,337.4 L434.7,335.9 L433.9,334.4 L433.0,332.9 L432.2,331.4 L431.4,329.9 L430.6,328.4 L429.7,326.9 L428.9,325.4 L428.1,323.9 L427.3,322.4 L426.5,320.9 L425.7,319.4 L424.8,317.9 L424.0,316.4 L423.2,314.9 L422.3,313.4 L421.5,311.8 L420.6,310.3 L419.7,308.8 L418.8,307.3 L418.0,305.8 L417.1,304.3 L416.1,302.8 L415.2,301.3 L414.3,299.8 L413.3,298.3 L412.4,296.8 L411.4,295.3 L410.4,293.8 L409.5,292.3 L408.5,290.8 L407.5,289.3 L406.5,287.8 L405.5,286.3 L404.6,284.8 L403.6,283.3 L402.6,281.8 L401.6,280.3 L400.7,278.8 L399.7,277.3 L398.7,275.8 L397.7,274.3 L396.7,272.8 L395.8,271.3 L394.8,269.8 L393.8,268.3 L392.9,266.8 L391.9,265.3 L390.9,263.8 L390.0,262.3 L389.0,260.8 L388.0,259.3 L387.0,257.8 L386.0,256.2 L385.0,254.7 L384.0,253.2 L383.0,251.7 L382.1,250.2 L381.1,248.7 L380.2,247.2 L379.2,245.7 L378.3,244.2 L377.5,242.7 L376.6,241.2 L375.8,239.7 L375.0,238.2 L374.2,236.7 L373.4,235.2 L372.7,233.7 L371.9,232.2 L371.1,230.7 L370.4,229.2 L369.6,227.7 L368.9,226.2 L368.1,224.7 L367.4,223.2 L366.7,221.7 L366.0,220.2 L365.3,218.7 L364.6,217.2 L364.0,215.7 L363.3,214.2 L362.7,212.7 L362.0,211.2 L361.4,209.7 L360.8,208.2 L360.2,206.7 L359.7,205.2 L359.1,203.7 L358.6,202.2 L358.1,200.6 L357.6,199.1 L357.1,197.6 L356.6,196.1 L356.2,194.6 L355.8,193.1 L355.4,191.6 L355.0,190.1 L354.6,188.6 L354.3,187.1 L354.0,185.6 L353.7,184.1 L353.4,182.6 L353.1,181.1 L352.9,179.6 L352.7,178.1 L352.5,176.6 L352.3,175.1 L352.1,173.6 L352.0,172.1 L351.9,170.6 L351.8,169.1 L351.8,167.6 L351.7,166.1 L351.7,164.6 L351.7,163.1 L351.7,161.6 L351.7,160.1 L351.7,158.6 L351.7,157.1 L351.7,155.6 L351.7,154.1 L351.7,152.6 L351.8,151.1 L351.8,149.6 L351.9,148.1 L352.0,146.5 L352.0,145.0 L352.0,143.5 L352.1,142.0 L352.1,140.5 L352.3,139.0 L352.5,137.5 L352.7,136.0 L352.9,134.5 L353.0,133.0 L353.2,131.5 L353.4,130.0 L353.7,128.5 L354.0,127.0 L354.3,125.5 L354.6,124.0 L354.9,122.5 L355.3,121.0 L355.8,119.5 L355.8,119.5 L356.3,121.0 L356.9,122.5 L357.4,124.0 L357.9,125.5 L358.5,127.0 L359.0,128.5 L359.6,130.0 L360.1,131.5 L360.7,133.0 L361.2,134.5 L361.8,136.0 L362.3,137.5 L362.9,139.0 L363.5,140.5 L364.0,142.0 L364.6,143.5 L365.2,145.0 L365.7,146.5 L366.3,148.1 L366.8,149.6 L367.4,151.1 L367.9,152.6 L368.4,154.1 L368.9,155.6 L369.5,157.1 L370.0,158.6 L370.4,160.1 L370.9,161.6 L371.4,163.1 L371.9,164.6 L372.3,166.1 L372.8,167.6 L373.3,169.1 L373.7,170.6 L374.2,172.1 L374.6,173.6 L375.1,175.1 L375.5,176.6 L375.9,178.1 L376.3,179.6 L376.8,181.1 L377.2,182.6 L377.5,184.1 L377.9,185.6 L378.3,187.1 L378.6,188.6 L378.9,190.1 L379.3,191.6 L379.6,193.1 L379.9,194.6 L380.2,196.1 L380.5,197.6 L380.7,199.1 L381.0,200.6 L381.3,202.2 L381.5,203.7 L381.8,205.2 L382.0,206.7 L382.2,208.2 L382.5,209.7 L382.7,211.2 L382.9,212.7 L383.2,214.2 L383.4,215.7 L383.6,217.2 L383.9,218.7 L384.1,220.2 L384.4,221.7 L384.6,223.2 L384.9,224.7 L385.2,226.2 L385.4,227.7 L385.7,229.2 L386.0,230.7 L386.3,232.2 L386.6,233.7 L386.9,235.2 L387.3,236.7 L387.6,238.2 L388.0,239.7 L388.4,241.2 L388.8,242.7 L389.2,244.2 L389.5,245.7 L389.9,247.2 L390.3,248.7 L390.7,250.2 L391.1,251.7 L391.5,253.2 L391.9,254.7 L392.3,256.2 L392.6,257.8 L393.0,259.3 L393.4,260.8 L393.7,262.3 L394.1,263.8 L394.4,265.3 L394.8,266.8 L395.2,268.3 L395.6,269.8 L395.9,271.3 L396.3,272.8 L396.7,274.3 L397.1,275.8 L397.6,277.3 L398.0,278.8 L398.5,280.3 L398.9,281.8 L399.4,283.3 L399.9,284.8 L400.4,286.3 L400.9,287.8 L401.4,289.3 L401.9,290.8 L402.5,292.3 L403.0,293.8 L403.6,295.3 L404.2,296.8 L404.8,298.3 L405.4,299.8 L406.0,301.3 L406.7,302.8 L407.4,304.3 L408.1,305.8 L408.8,307.3 L409.6,308.8 L410.4,310.3 L411.3,311.8 L412.2,313.4 L413.1,314.9 L414.0,316.4 L414.9,317.9 L415.8,319.4 L416.7,320.9 L417.6,322.4 L418.4,323.9 L419.2,325.4 L420.0,326.9 L420.9,328.4 L421.7,329.9 L422.6,331.4 L423.4,332.9 L424.2,334.4 L425.0,335.9 L425.9,337.4 L426.7,338.9 L427.5,340.4 L428.4,341.9 L429.2,343.4 L430.0,344.9 L430.8,346.4 L431.6,347.9 L432.4,349.4 L433.2,350.9 L434.0,352.4 L434.8,353.9 L435.6,355.4 L436.4,356.9 L437.2,358.4 L438.0,359.9 L438.7,361.4 L439.5,362.9 L440.3,364.4 L441.0,365.9 L441.8,367.5 L442.5,369.0 L443.3,370.5 L444.0,372.0 L444.7,373.5 L445.4,375.0 L446.1,376.5 L446.8,378.0 L447.5,379.5 L448.2,381.0 L448.8,382.5 L449.5,384.0 L450.2,385.5 L450.8,387.0 L451.5,388.5 L452.1,390.0 L452.7,391.5 L453.4,393.0 L454.0,394.5 L454.0,394.5 L453.3,393.0 L452.5,391.5 L451.8,390.0 L451.0,388.5 L450.3,387.0 L449.5,385.5 L448.8,384.0 L448.0,382.5 L447.3,381.0 L446.5,379.5 L445.7,378.0 L445.0,376.5 L444.2,375.0 L443.4,373.5 L442.7,372.0 L441.9,370.5 L441.1,369.0 L440.3,367.5 L439.5,365.9 L438.7,364.4 L437.9,362.9 L437.1,361.4 L436.3,359.9 L435.5,358.4 L434.6,356.9 L433.8,355.4 L433.0,353.9 L432.2,352.4 L431.4,350.9 L430.6,349.4 L429.7,347.9 L428.9,346.4 L428.1,344.9 L427.2,343.4 L426.4,341.9 L425.6,340.4 L424.7,338.9 L423.9,337.4 L423.1,335.9 L422.2,334.4 L421.4,332.9 L420.6,331.4 L419.7,329.9 L418.9,328.4 L418.0,326.9 L417.2,325.4 L416.4,323.9 L415.5,322.4 L414.7,320.9 L413.9,319.4 L413.0,317.9 L412.2,316.4 L411.3,314.9 L410.4,313.4 L409.5,311.8 L408.7,310.3 L407.8,308.8 L406.9,307.3 L406.0,305.8 L405.0,304.3 L404.1,302.8 L403.2,301.3 L402.2,299.8 L401.2,298.3 L400.3,296.8 L399.3,295.3 L398.3,293.8 L397.3,292.3 L396.3,290.8 L395.3,289.3 L394.3,287.8 L393.3,286.3 L392.3,284.8 L391.3,283.3 L390.3,281.8 L389.4,280.3 L388.4,278.8 L387.4,277.3 L386.4,275.8 L385.5,274.3 L384.5,272.8 L383.5,271.3 L382.6,269.8 L381.6,268.3 L380.7,266.8 L379.8,265.3 L378.8,263.8 L377.9,262.3 L376.9,260.8 L376.0,259.3 L375.0,257.8 L374.1,256.2 L373.1,254.7 L372.1,253.2 L371.1,251.7 L370.2,250.2 L369.2,248.7 L368.3,247.2 L367.3,245.7 L366.4,244.2 L365.5,242.7 L364.7,241.2 L363.9,239.7 L363.0,238.2 L362.2,236.7 L361.4,235.2 L360.6,233.7 L359.8,232.2 L359.0,230.7 L358.2,229.2 L357.4,227.7 L356.7,226.2 L355.9,224.7 L355.2,223.2 L354.5,221.7 L353.8,220.2 L353.1,218.7 L352.4,217.2 L351.7,215.7 L351.1,214.2 L350.4,212.7 L349.8,211.2 L349.2,209.7 L348.6,208.2 L348.0,206.7 L347.5,205.2 L346.9,203.7 L346.4,202.2 L345.9,200.6 L345.5,199.1 L345.0,197.6 L344.6,196.1 L344.2,194.6 L343.8,193.1 L343.5,191.6 L343.2,190.1 L342.9,188.6 L342.6,187.1 L342.4,185.6 L342.2,184.1 L342.0,182.6 L341.8,181.1 L341.6,179.6 L341.5,178.1 L341.4,176.6 L341.3,175.1 L341.3,173.6 L341.2,172.1 L341.2,170.6 L341.2,169.1 L341.2,167.6 L341.2,166.1 L341.3,164.6 L341.4,163.1 L341.4,161.6 L341.5,160.1 L341.6,158.6 L341.6,157.1 L341.7,155.6 L341.8,154.1 L341.9,152.6 L342.0,151.1 L342.1,149.6 L342.3,148.1 L342.4,146.5 L342.5,145.0 L342.6,143.5 L342.7,142.0 L342.9,140.5 L343.1,139.0 L343.5,137.5 L343.8,136.0 L344.0,134.5 L344.2,133.0 L344.5,131.5 L344.8,130.0 L345.2,128.5 L345.6,127.0 L345.9,125.5 L346.3,124.0 L346.7,122.5 L347.1,121.0 L347.6,119.5 L347.6,119.5 L348.2,121.0 L348.7,122.5 L349.3,124.0 L349.8,125.5 L350.4,127.0 L350.9,128.5 L351.5,130.0 L352.0,131.5 L352.5,133.0 L353.1,134.5 L353.6,136.0 L354.2,137.5 L354.7,139.0 L355.2,140.5 L355.8,142.0 L356.3,143.5 L356.8,145.0 L357.3,146.5 L357.9,148.1 L358.4,149.6 L358.9,151.1 L359.4,152.6 L359.8,154.1 L360.3,155.6 L360.8,157.1 L361.2,158.6 L361.7,160.1 L362.2,161.6 L362.6,163.1 L363.0,164.6 L363.5,166.1 L363.9,167.6 L364.3,169.1 L364.8,170.6 L365.2,172.1 L365.7,173.6 L366.1,175.1 L366.5,176.6 L366.9,178.1 L367.3,179.6 L367.8,181.1 L368.2,182.6 L368.5,184.1 L368.9,185.6 L369.2,187.1 L369.5,188.6 L369.8,190.1 L370.1,191.6 L370.4,193.1 L370.7,194.6 L371.0,196.1 L371.2,197.6 L371.5,199.1 L371.7,200.6 L371.9,202.2 L372.1,203.7 L372.3,205.2 L372.5,206.7 L372.7,208.2 L372.9,209.7 L373.1,211.2 L373.3,212.7 L373.5,214.2 L373.7,215.7 L373.9,217.2 L374.0,218.7 L374.2,220.2 L374.4,221.7 L374.6,223.2 L374.8,224.7 L375.0,226.2 L375.2,227.7 L375.5,229.2 L375.7,230.7 L375.9,232.2 L376.1,233.7 L376.4,235.2 L376.6,236.7 L376.9,238.2 L377.2,239.7 L377.6,241.2 L377.9,242.7 L378.2,244.2 L378.5,245.7 L378.9,247.2 L379.2,248.7 L379.6,250.2 L379.9,251.7 L380.2,253.2 L380.6,254.7 L380.9,256.2 L381.3,257.8 L381.6,259.3 L381.9,260.8 L382.2,262.3 L382.5,263.8 L382.9,265.3 L383.2,266.8 L383.5,268.3 L383.8,269.8 L384.2,271.3 L384.5,272.8 L384.9,274.3 L385.3,275.8 L385.6,277.3 L386.0,278.8 L386.5,280.3 L386.9,281.8 L387.3,283.3 L387.8,284.8 L388.3,286.3 L388.7,287.8 L389.2,289.3 L389.7,290.8 L390.2,292.3 L390.8,293.8 L391.3,295.3 L391.9,296.8 L392.5,298.3 L393.1,299.8 L393.8,301.3 L394.4,302.8 L395.1,304.3 L395.9,305.8 L396.7,307.3 L397.6,308.8 L398.5,310.3 L399.4,311.8 L400.4,313.4 L401.4,314.9 L402.5,316.4 L403.6,317.9 L404.6,319.4 L405.6,320.9 L406.5,322.4 L407.4,323.9 L408.2,325.4 L409.1,326.9 L410.0,328.4 L410.9,329.9 L411.8,331.4 L412.7,332.9 L413.5,334.4 L414.4,335.9 L415.3,337.4 L416.1,338.9 L417.0,340.4 L417.8,341.9 L418.7,343.4 L419.5,344.9 L420.4,346.4 L421.2,347.9 L422.0,349.4 L422.8,350.9 L423.6,352.4 L424.5,353.9 L425.3,355.4 L426.0,356.9 L426.8,358.4 L427.6,359.9 L428.4,361.4 L429.2,362.9 L429.9,364.4 L430.7,365.9 L431.5,367.5 L432.2,369.0 L433.0,370.5 L433.7,372.0 L434.4,373.5 L435.1,375.0 L435.8,376.5 L436.5,378.0 L437.2,379.5 L437.9,381.0 L438.5,382.5 L439.2,384.0 L439.8,385.5 L440.5,387.0 L441.1,388.5 L441.7,390.0 L442.3,391.5 L442.9,393.0 L443.5,394.5 L443.5,394.5 L442.8,393.0 L442.1,391.5 L441.4,390.0 L440.7,388.5 L440.0,387.0 L439.3,385.5 L438.6,384.0 L437.9,382.5 L437.1,381.0 L436.4,379.5 L435.6,378.0 L434.9,376.5 L434.1,375.0 L433.4,373.5 L432.6,372.0 L431.9,370.5 L431.1,369.0 L430.3,367.5 L429.5,365.9 L428.7,364.4 L427.9,362.9 L427.1,361.4 L426.3,359.9 L425.5,358.4 L424.6,356.9 L423.8,355.4 L423.0,353.9 L422.2,352.4 L421.3,350.9 L420.5,349.4 L419.7,347.9 L418.8,346.4 L418.0,344.9 L417.1,343.4 L416.3,341.9 L415.4,340.4 L414.6,338.9 L413.7,337.4 L412.8,335.9 L412.0,334.4 L411.1,332.9 L410.2,331.4 L409.3,329.9 L408.4,328.4 L407.5,326.9 L406.6,325.4 L405.7,323.9 L404.8,322.4 L403.9,320.9 L403.0,319.4 L402.1,317.9 L401.2,316.4 L400.2,314.9 L399.3,313.4 L398.3,311.8 L397.4,310.3 L396.4,308.8 L395.5,307.3 L394.5,305.8 L393.5,304.3 L392.6,302.8 L391.6,301.3 L390.6,299.8 L389.6,298.3 L388.6,296.8 L387.5,295.3 L386.5,293.8 L385.5,292.3 L384.5,290.8 L383.5,289.3 L382.5,287.8 L381.5,286.3 L380.5,284.8 L379.5,283.3 L378.5,281.8 L377.5,280.3 L376.5,278.8 L375.6,277.3 L374.6,275.8 L373.6,274.3 L372.7,272.8 L371.7,271.3 L370.8,269.8 L369.9,268.3 L369.0,266.8 L368.1,265.3 L367.1,263.8 L366.2,262.3 L365.3,260.8 L364.4,259.3 L363.4,257.8 L362.5,256.2 L361.5,254.7 L360.5,253.2 L359.5,251.7 L358.6,250.2 L357.6,248.7 L356.6,247.2 L355.7,245.7 L354.7,244.2 L353.8,242.7 L352.9,241.2 L352.1,239.7 L351.2,238.2 L350.4,236.7 L349.5,235.2 L348.7,233.7 L347.9,232.2 L347.0,230.7 L346.2,229.2 L345.4,227.7 L344.6,226.2 L343.9,224.7 L343.1,223.2 L342.4,221.7 L341.7,220.2 L341.0,218.7 L340.3,217.2 L339.7,215.7 L339.0,214.2 L338.4,212.7 L337.8,211.2 L337.2,209.7 L336.7,208.2 L336.1,206.7 L335.6,205.2 L335.1,203.7 L334.6,202.2 L334.2,200.6 L333.7,199.1 L333.3,197.6 L332.9,196.1 L332.6,194.6 L332.3,193.1 L332.0,191.6 L331.7,190.1 L331.5,188.6 L331.2,187.1 L331.1,185.6 L330.9,184.1 L330.8,182.6 L330.7,181.1 L330.6,179.6 L330.5,178.1 L330.5,176.6 L330.5,175.1 L330.5,173.6 L330.5,172.1 L330.6,170.6 L330.6,169.1 L330.7,167.6 L330.8,166.1 L330.9,164.6 L331.0,163.1 L331.2,161.6 L331.3,160.1 L331.4,158.6 L331.5,157.1 L331.7,155.6 L331.8,154.1 L332.0,152.6 L332.2,151.1 L332.4,149.6 L332.6,148.1 L332.8,146.5 L333.0,145.0 L333.2,143.5 L333.4,142.0 L333.7,140.5 L334.1,139.0 L334.5,137.5 L334.9,136.0 L335.2,134.5 L335.6,133.0 L335.9,131.5 L336.3,130.0 L336.8,128.5 L337.3,127.0 L337.7,125.5 L338.1,124.0 L338.6,122.5 L339.1,121.0 L339.6,119.5 L339.6,119.5 L340.2,121.0 L340.8,122.5 L341.3,124.0 L341.9,125.5 L342.5,127.0 L343.1,128.5 L343.6,130.0 L344.2,131.5 L344.7,133.0 L345.2,134.5 L345.8,136.0 L346.3,137.5 L346.8,139.0 L347.3,140.5 L347.8,142.0 L348.3,143.5 L348.8,145.0 L349.3,146.5 L349.8,148.1 L350.2,149.6 L350.7,151.1 L351.1,152.6 L351.6,154.1 L352.0,155.6 L352.4,157.1 L352.9,158.6 L353.3,160.1 L353.7,161.6 L354.1,163.1 L354.5,164.6 L354.9,166.1 L355.3,167.6 L355.7,169.1 L356.1,170.6 L356.5,172.1 L356.9,173.6 L357.3,175.1 L357.7,176.6 L358.1,178.1 L358.5,179.6 L358.9,181.1 L359.2,182.6 L359.6,184.1 L359.9,185.6 L360.2,187.1 L360.4,188.6 L360.7,190.1 L361.0,191.6 L361.2,193.1 L361.4,194.6 L361.6,196.1 L361.8,197.6 L362.0,199.1 L362.2,200.6 L362.4,202.2 L362.5,203.7 L362.7,205.2 L362.8,206.7 L363.0,208.2 L363.1,209.7 L363.2,211.2 L363.4,212.7 L363.5,214.2 L363.6,215.7 L363.8,217.2 L363.9,218.7 L364.1,220.2 L364.2,221.7 L364.3,223.2 L364.4,224.7 L364.6,226.2 L364.7,227.7 L364.9,229.2 L365.0,230.7 L365.1,232.2 L365.3,233.7 L365.5,235.2 L365.7,236.7 L365.9,238.2 L366.1,239.7 L366.4,241.2 L366.7,242.7 L366.9,244.2 L367.2,245.7 L367.5,247.2 L367.7,248.7 L368.0,250.2 L368.3,251.7 L368.6,253.2 L368.9,254.7 L369.2,256.2 L369.5,257.8 L369.8,259.3 L370.1,260.8 L370.3,262.3 L370.6,263.8 L370.9,265.3 L371.2,266.8 L371.4,268.3 L371.7,269.8 L372.0,271.3 L372.4,272.8 L372.7,274.3 L373.0,275.8 L373.4,277.3 L373.7,278.8 L374.1,280.3 L374.5,281.8 L374.9,283.3 L375.4,284.8 L375.8,286.3 L376.2,287.8 L376.7,289.3 L377.2,290.8 L377.7,292.3 L378.2,293.8 L378.8,295.3 L379.3,296.8 L379.9,298.3 L380.5,299.8 L381.2,301.3 L381.8,302.8 L382.5,304.3 L383.2,305.8 L384.0,307.3 L384.7,308.8 L385.5,310.3 L386.2,311.8 L387.0,313.4 L387.7,314.9 L388.5,316.4 L389.3,317.9 L390.0,319.4 L390.8,320.9 L391.5,322.4 L392.2,323.9 L393.0,325.4 L393.7,326.9 L394.5,328.4 L395.2,329.9 L396.0,331.4 L396.8,332.9 L397.6,334.4 L398.4,335.9 L399.2,337.4 L400.0,338.9 L400.8,340.4 L401.6,341.9 L402.4,343.4 L403.3,344.9 L404.1,346.4 L405.0,347.9 L405.8,349.4 L406.7,350.9 L407.5,352.4 L408.4,353.9 L409.3,355.4 L410.1,356.9 L411.0,358.4 L411.9,359.9 L412.7,361.4 L413.6,362.9 L414.5,364.4 L415.4,365.9 L416.3,367.5 L417.2,369.0 L418.1,370.5 L419.0,372.0 L419.9,373.5 L420.8,375.0 L421.7,376.5 L422.7,378.0 L423.6,379.5 L424.5,381.0 L425.4,382.5 L426.4,384.0 L427.3,385.5 L428.2,387.0 L429.1,388.5 L430.1,390.0 L431.1,391.5 L432.1,393.0 L433.1,394.5 L433.1,394.5 L432.5,393.0 L431.9,391.5 L431.2,390.0 L430.6,388.5 L429.9,387.0 L429.2,385.5 L428.6,384.0 L427.9,382.5 L427.2,381.0 L426.5,379.5 L425.7,378.0 L425.0,376.5 L424.3,375.0 L423.5,373.5 L422.8,372.0 L422.0,370.5 L421.3,369.0 L420.5,367.5 L419.7,365.9 L418.9,364.4 L418.1,362.9 L417.3,361.4 L416.4,359.9 L415.6,358.4 L414.8,356.9 L414.0,355.4 L413.1,353.9 L412.3,352.4 L411.4,350.9 L410.6,349.4 L409.7,347.9 L408.8,346.4 L408.0,344.9 L407.1,343.4 L406.2,341.9 L405.3,340.4 L404.4,338.9 L403.5,337.4 L402.6,335.9 L401.6,334.4 L400.7,332.9 L399.8,331.4 L398.8,329.9 L397.9,328.4 L396.9,326.9 L395.9,325.4 L395.0,323.9 L394.0,322.4 L393.0,320.9 L392.0,319.4 L391.0,317.9 L390.0,316.4 L388.9,314.9 L387.9,313.4 L386.9,311.8 L385.9,310.3 L384.8,308.8 L383.8,307.3 L382.8,305.8 L381.8,304.3 L380.8,302.8 L379.7,301.3 L378.7,299.8 L377.7,298.3 L376.6,296.8 L375.6,295.3 L374.5,293.8 L373.5,292.3 L372.5,290.8 L371.5,289.3 L370.4,287.8 L369.4,286.3 L368.4,284.8 L367.4,283.3 L366.4,281.8 L365.4,280.3 L364.4,278.8 L363.4,277.3 L362.5,275.8 L361.5,274.3 L360.5,272.8 L359.6,271.3 L358.6,269.8 L357.7,268.3 L356.8,266.8 L355.9,265.3 L355.0,263.8 L354.1,262.3 L353.2,260.8 L352.2,259.3 L351.3,257.8 L350.3,256.2 L349.4,254.7 L348.4,253.2 L347.4,251.7 L346.4,250.2 L345.5,248.7 L344.5,247.2 L343.5,245.7 L342.5,244.2 L341.6,242.7 L340.7,241.2 L339.8,239.7 L338.9,238.2 L338.1,236.7 L337.2,235.2 L336.3,233.7 L335.5,232.2 L334.6,230.7 L333.8,229.2 L333.0,227.7 L332.2,226.2 L331.5,224.7 L330.7,223.2 L330.0,221.7 L329.3,220.2 L328.7,218.7 L328.0,217.2 L327.4,215.7 L326.8,214.2 L326.2,212.7 L325.7,211.2 L325.2,209.7 L324.6,208.2 L324.1,206.7 L323.6,205.2 L323.2,203.7 L322.8,202.2 L322.4,200.6 L322.0,199.1 L321.6,197.6 L321.2,196.1 L321.0,194.6 L320.7,193.1 L320.4,191.6 L320.2,190.1 L320.0,188.6 L319.8,187.1 L319.7,185.6 L319.7,184.1 L319.6,182.6 L319.6,181.1 L319.6,179.6 L319.5,178.1 L319.5,176.6 L319.5,175.1 L319.6,173.6 L319.7,172.1 L319.8,170.6 L320.0,169.1 L320.1,167.6 L320.3,166.1 L320.5,164.6 L320.7,163.1 L320.9,161.6 L321.1,160.1 L321.3,158.6 L321.5,157.1 L321.7,155.6 L322.0,154.1 L322.2,152.6 L322.5,151.1 L322.8,149.6 L323.2,148.1 L323.5,146.5 L323.7,145.0 L324.1,143.5 L324.4,142.0 L324.8,140.5 L325.3,139.0 L325.9,137.5 L326.4,136.0 L326.9,134.5 L327.4,133.0 L327.8,131.5 L328.4,130.0 L329.0,128.5 L329.6,127.0 L330.1,125.5 L330.5,124.0 L331.0,122.5 L331.6,121.0 L332.2,119.5 L332.2,119.5 L332.8,121.0 L333.4,122.5 L334.0,124.0 L334.6,125.5 L335.2,127.0 L335.7,128.5 L336.3,130.0 L336.9,131.5 L337.4,133.0 L337.9,134.5 L338.5,136.0 L339.0,137.5 L339.5,139.0 L340.0,140.5 L340.4,142.0 L340.9,143.5 L341.4,145.0 L341.8,146.5 L342.3,148.1 L342.7,149.6 L343.1,151.1 L343.5,152.6 L343.9,154.1 L344.3,155.6 L344.6,157.1 L345.0,158.6 L345.4,160.1 L345.7,161.6 L346.1,163.1 L346.4,164.6 L346.7,166.1 L347.1,167.6 L347.4,169.1 L347.8,170.6 L348.1,172.1 L348.5,173.6 L348.8,175.1 L349.1,176.6 L349.4,178.1 L349.8,179.6 L350.1,181.1 L350.4,182.6 L350.7,184.1 L350.9,185.6 L351.1,187.1 L351.3,188.6 L351.5,190.1 L351.7,191.6 L351.9,193.1 L352.0,194.6 L352.2,196.1 L352.3,197.6 L352.4,199.1 L352.5,200.6 L352.6,202.2 L352.7,203.7 L352.8,205.2 L352.8,206.7 L352.9,208.2 L353.0,209.7 L353.0,211.2 L353.1,212.7 L353.2,214.2 L353.2,215.7 L353.3,217.2 L353.4,218.7 L353.4,220.2 L353.5,221.7 L353.6,223.2 L353.6,224.7 L353.7,226.2 L353.8,227.7 L353.8,229.2 L353.9,230.7 L353.9,232.2 L354.0,233.7 L354.1,235.2 L354.2,236.7 L354.4,238.2 L354.5,239.7 L354.7,241.2 L354.9,242.7 L355.1,244.2 L355.3,245.7 L355.4,247.2 L355.6,248.7 L355.8,250.2 L356.1,251.7 L356.3,253.2 L356.5,254.7 L356.8,256.2 L357.0,257.8 L357.2,259.3 L357.4,260.8 L357.6,262.3 L357.9,263.8 L358.1,265.3 L358.3,266.8 L358.6,268.3 L358.8,269.8 L359.1,271.3 L359.4,272.8 L359.7,274.3 L360.0,275.8 L360.3,277.3 L360.6,278.8 L361.0,280.3 L361.4,281.8 L361.8,283.3 L362.2,284.8 L362.6,286.3 L363.0,287.8 L363.4,289.3 L363.9,290.8 L364.4,292.3 L364.9,293.8 L365.4,295.3 L366.0,296.8 L366.6,298.3 L367.2,299.8 L367.9,301.3 L368.5,302.8 L369.2,304.3 L369.9,305.8 L370.6,307.3 L371.4,308.8 L372.1,310.3 L372.9,311.8 L373.6,313.4 L374.4,314.9 L375.1,316.4 L375.9,317.9 L376.6,319.4 L377.3,320.9 L378.1,322.4 L378.8,323.9 L379.5,325.4 L380.3,326.9 L381.1,328.4 L381.8,329.9 L382.6,331.4 L383.4,332.9 L384.2,334.4 L385.0,335.9 L385.8,337.4 L386.6,338.9 L387.5,340.4 L388.3,341.9 L389.1,343.4 L390.0,344.9 L390.9,346.4 L391.7,347.9 L392.6,349.4 L393.5,350.9 L394.4,352.4 L395.2,353.9 L396.1,355.4 L397.0,356.9 L397.9,358.4 L398.8,359.9 L399.8,361.4 L400.7,362.9 L401.7,364.4 L402.6,365.9 L403.6,367.5 L404.5,369.0 L405.5,370.5 L406.5,372.0 L407.4,373.5 L408.4,375.0 L409.4,376.5 L410.4,378.0 L411.4,379.5 L412.4,381.0 L413.4,382.5 L414.4,384.0 L415.4,385.5 L416.5,387.0 L417.5,388.5 L418.5,390.0 L419.7,391.5 L420.8,393.0 L421.9,394.5 L421.9,394.5 L421.3,393.0 L420.7,391.5 L420.0,390.0 L419.3,388.5 L418.7,387.0 L418.0,385.5 L417.3,384.0 L416.6,382.5 L415.9,381.0 L415.2,379.5 L414.5,378.0 L413.8,376.5 L413.0,375.0 L412.3,373.5 L411.5,372.0 L410.8,370.5 L410.0,369.0 L409.2,367.5 L408.4,365.9 L407.6,364.4 L406.8,362.9 L406.0,361.4 L405.1,359.9 L404.3,358.4 L403.5,356.9 L402.6,355.4 L401.8,353.9 L400.9,352.4 L400.0,350.9 L399.2,349.4 L398.3,347.9 L397.4,346.4 L396.5,344.9 L395.6,343.4 L394.7,341.9 L393.8,340.4 L392.8,338.9 L391.9,337.4 L391.0,335.9 L390.0,334.4 L389.0,332.9 L388.1,331.4 L387.1,329.9 L386.1,328.4 L385.1,326.9 L384.1,325.4 L383.1,323.9 L382.0,322.4 L381.0,320.9 L380.0,319.4 L378.9,317.9 L377.8,316.4 L376.8,314.9 L375.7,313.4 L374.6,311.8 L373.5,310.3 L372.5,308.8 L371.4,307.3 L370.3,305.8 L369.3,304.3 L368.2,302.8 L367.2,301.3 L366.1,299.8 L365.0,298.3 L364.0,296.8 L362.9,295.3 L361.8,293.8 L360.7,292.3 L359.7,290.8 L358.6,289.3 L357.6,287.8 L356.5,286.3 L355.5,284.8 L354.4,283.3 L353.4,281.8 L352.4,280.3 L351.4,278.8 L350.4,277.3 L349.4,275.8 L348.4,274.3 L347.4,272.8 L346.4,271.3 L345.5,269.8 L344.5,268.3 L343.6,266.8 L342.7,265.3 L341.8,263.8 L340.8,262.3 L339.9,260.8 L339.0,259.3 L338.0,257.8 L337.1,256.2 L336.1,254.7 L335.1,253.2 L334.2,251.7 L333.2,250.2 L332.2,248.7 L331.2,247.2 L330.2,245.7 L329.2,244.2 L328.3,242.7 L327.4,241.2 L326.5,239.7 L325.7,238.2 L324.8,236.7 L323.9,235.2 L323.1,233.7 L322.2,232.2 L321.4,230.7 L320.5,229.2 L319.7,227.7 L319.0,226.2 L318.3,224.7 L317.5,223.2 L316.9,221.7 L316.2,220.2 L315.6,218.7 L315.0,217.2 L314.4,215.7 L313.8,214.2 L313.3,212.7 L312.8,211.2 L312.3,209.7 L311.8,208.2 L311.3,206.7 L310.9,205.2 L310.5,203.7 L310.2,202.2 L309.8,200.6 L309.5,199.1 L309.2,197.6 L308.9,196.1 L308.7,194.6 L308.5,193.1 L308.3,191.6 L308.2,190.1 L308.0,188.6 L307.9,187.1 L307.9,185.6 L307.9,184.1 L307.9,182.6 L307.9,181.1 L308.0,179.6 L308.1,178.1 L308.2,176.6 L308.3,175.1 L308.4,173.6 L308.6,172.1 L308.8,170.6 L309.1,169.1 L309.3,167.6 L309.6,166.1 L309.9,164.6 L310.3,163.1 L310.6,161.6 L310.9,160.1 L311.2,158.6 L311.5,157.1 L311.9,155.6 L312.2,154.1 L312.6,152.6 L313.0,151.1 L313.4,149.6 L313.9,148.1 L314.3,146.5 L314.7,145.0 L315.1,143.5 L315.5,142.0 L316.1,140.5 L316.7,139.0 L317.4,137.5 L318.1,136.0 L318.7,134.5 L319.3,133.0 L319.9,131.5 L320.6,130.0 L321.3,128.5 L322.0,127.0 L322.5,125.5 L323.1,124.0 L323.7,122.5 L324.3,121.0 L324.9,119.5 L324.9,119.5 L325.6,121.0 L326.2,122.5 L326.8,124.0 L327.4,125.5 L328.0,127.0 L328.6,128.5 L329.2,130.0 L329.8,131.5 L330.3,133.0 L330.8,134.5 L331.3,136.0 L331.8,137.5 L332.3,139.0 L332.8,140.5 L333.3,142.0 L333.7,143.5 L334.1,145.0 L334.5,146.5 L334.9,148.1 L335.3,149.6 L335.7,151.1 L336.1,152.6 L336.4,154.1 L336.8,155.6 L337.1,157.1 L337.4,158.6 L337.7,160.1 L338.0,161.6 L338.3,163.1 L338.6,164.6 L338.9,166.1 L339.2,167.6 L339.4,169.1 L339.7,170.6 L340.0,172.1 L340.2,173.6 L340.5,175.1 L340.7,176.6 L340.9,178.1 L341.2,179.6 L341.4,181.1 L341.6,182.6 L341.8,184.1 L342.0,185.6 L342.1,187.1 L342.2,188.6 L342.3,190.1 L342.4,191.6 L342.5,193.1 L342.5,194.6 L342.6,196.1 L342.7,197.6 L342.7,199.1 L342.8,200.6 L342.8,202.2 L342.8,203.7 L342.8,205.2 L342.7,206.7 L342.7,208.2 L342.7,209.7 L342.7,211.2 L342.7,212.7 L342.7,214.2 L342.6,215.7 L342.6,217.2 L342.6,218.7 L342.6,220.2 L342.6,221.7 L342.5,223.2 L342.5,224.7 L342.5,226.2 L342.5,227.7 L342.5,229.2 L342.4,230.7 L342.4,232.2 L342.4,233.7 L342.4,235.2 L342.4,236.7 L342.5,238.2 L342.6,239.7 L342.7,241.2 L342.8,242.7 L342.9,244.2 L343.0,245.7 L343.1,247.2 L343.2,248.7 L343.3,250.2 L343.4,251.7 L343.6,253.2 L343.7,254.7 L343.9,256.2 L344.1,257.8 L344.2,259.3 L344.4,260.8 L344.6,262.3 L344.8,263.8 L345.0,265.3 L345.2,266.8 L345.4,268.3 L345.6,269.8 L345.9,271.3 L346.1,272.8 L346.4,274.3 L346.7,275.8 L347.0,277.3 L347.3,278.8 L347.7,280.3 L348.0,281.8 L348.4,283.3 L348.8,284.8 L349.2,286.3 L349.6,287.8 L350.1,289.3 L350.6,290.8 L351.1,292.3 L351.6,293.8 L352.1,295.3 L352.7,296.8 L353.3,298.3 L353.9,299.8 L354.6,301.3 L355.2,302.8 L355.9,304.3 L356.6,305.8 L357.3,307.3 L358.0,308.8 L358.7,310.3 L359.5,311.8 L360.2,313.4 L360.9,314.9 L361.7,316.4 L362.4,317.9 L363.2,319.4 L363.9,320.9 L364.7,322.4 L365.4,323.9 L366.2,325.4 L366.9,326.9 L367.7,328.4 L368.5,329.9 L369.3,331.4 L370.2,332.9 L371.0,334.4 L371.8,335.9 L372.7,337.4 L373.5,338.9 L374.4,340.4 L375.3,341.9 L376.2,343.4 L377.1,344.9 L378.0,346.4 L378.9,347.9 L379.8,349.4 L380.7,350.9 L381.7,352.4 L382.6,353.9 L383.6,355.4 L384.5,356.9 L385.5,358.4 L386.4,359.9 L387.4,361.4 L388.4,362.9 L389.4,364.4 L390.4,365.9 L391.5,367.5 L392.5,369.0 L393.5,370.5 L394.6,372.0 L395.6,373.5 L396.6,375.0 L397.7,376.5 L398.8,378.0 L399.8,379.5 L400.9,381.0 L402.0,382.5 L403.1,384.0 L404.2,385.5 L405.3,387.0 L406.4,388.5 L407.6,390.0 L408.8,391.5 L410.0,393.0 L411.3,394.5 L411.3,394.5 L410.6,393.0 L409.9,391.5 L409.2,390.0 L408.5,388.5 L407.8,387.0 L407.1,385.5 L406.4,384.0 L405.7,382.5 L405.0,381.0 L404.2,379.5 L403.5,378.0 L402.8,376.5 L402.0,375.0 L401.2,373.5 L400.5,372.0 L399.7,370.5 L398.9,369.0 L398.1,367.5 L397.3,365.9 L396.4,364.4 L395.6,362.9 L394.8,361.4 L393.9,359.9 L393.1,358.4 L392.2,356.9 L391.4,355.4 L390.5,353.9 L389.6,352.4 L388.7,350.9 L387.8,349.4 L386.9,347.9 L386.0,346.4 L385.1,344.9 L384.1,343.4 L383.2,341.9 L382.3,340.4 L381.3,338.9 L380.3,337.4 L379.4,335.9 L378.4,334.4 L377.4,332.9 L376.4,331.4 L375.4,329.9 L374.4,328.4 L373.3,326.9 L372.3,325.4 L371.3,323.9 L370.2,322.4 L369.2,320.9 L368.1,319.4 L367.0,317.9 L366.0,316.4 L364.9,314.9 L363.8,313.4 L362.7,311.8 L361.6,310.3 L360.5,308.8 L359.4,307.3 L358.3,305.8 L357.2,304.3 L356.1,302.8 L355.1,301.3 L354.0,299.8 L352.9,298.3 L351.7,296.8 L350.6,295.3 L349.5,293.8 L348.4,292.3 L347.3,290.8 L346.2,289.3 L345.1,287.8 L344.0,286.3 L342.9,284.8 L341.9,283.3 L340.8,281.8 L339.7,280.3 L338.7,278.8 L337.6,277.3 L336.6,275.8 L335.6,274.3 L334.5,272.8 L333.5,271.3 L332.5,269.8 L331.6,268.3 L330.6,266.8 L329.7,265.3 L328.7,263.8 L327.8,262.3 L326.8,260.8 L325.9,259.3 L324.9,257.8 L323.9,256.2 L322.9,254.7 L321.9,253.2 L321.0,251.7 L320.0,250.2 L318.9,248.7 L317.9,247.2 L316.9,245.7 L316.0,244.2 L315.1,242.7 L314.2,241.2 L313.3,239.7 L312.4,238.2 L311.5,236.7 L310.7,235.2 L309.8,233.7 L309.0,232.2 L308.1,230.7 L307.3,229.2 L306.5,227.7 L305.8,226.2 L305.0,224.7 L304.3,223.2 L303.6,221.7 L303.0,220.2 L302.4,218.7 L301.8,217.2 L301.3,215.7 L300.7,214.2 L300.2,212.7 L299.8,211.2 L299.4,209.7 L299.0,208.2 L298.6,206.7 L298.3,205.2 L298.0,203.7 L297.7,202.2 L297.4,200.6 L297.2,199.1 L296.9,197.6 L296.8,196.1 L296.6,194.6 L296.6,193.1 L296.6,191.6 L296.5,190.1 L296.5,188.6 L296.5,187.1 L296.5,185.6 L296.5,184.1 L296.6,182.6 L296.7,181.1 L296.9,179.6 L297.1,178.1 L297.4,176.6 L297.6,175.1 L297.9,173.6 L298.2,172.1 L298.5,170.6 L298.9,169.1 L299.3,167.6 L299.7,166.1 L300.1,164.6 L300.6,163.1 L301.1,161.6 L301.5,160.1 L301.9,158.6 L302.3,157.1 L302.8,155.6 L303.2,154.1 L303.7,152.6 L304.2,151.1 L304.8,149.6 L305.3,148.1 L305.8,146.5 L306.3,145.0 L306.9,143.5 L307.4,142.0 L308.1,140.5 L308.8,139.0 L309.7,137.5 L310.5,136.0 L311.2,134.5 L311.9,133.0 L312.6,131.5 L313.4,130.0 L314.2,128.5 L315.0,127.0 L315.7,125.5 L316.3,124.0 L317.0,122.5 L317.7,121.0 L318.4,119.5 L318.4,119.5 L319.1,121.0 L319.8,122.5 L320.4,124.0 L321.0,125.5 L321.6,127.0 L322.2,128.5 L322.8,130.0 L323.3,131.5 L323.9,133.0 L324.4,134.5 L324.9,136.0 L325.3,137.5 L325.8,139.0 L326.2,140.5 L326.6,142.0 L327.1,143.5 L327.4,145.0 L327.8,146.5 L328.2,148.1 L328.5,149.6 L328.9,151.1 L329.2,152.6 L329.5,154.1 L329.8,155.6 L330.1,157.1 L330.4,158.6 L330.6,160.1 L330.9,161.6 L331.1,163.1 L331.3,164.6 L331.5,166.1 L331.7,167.6 L331.9,169.1 L332.1,170.6 L332.3,172.1 L332.5,173.6 L332.6,175.1 L332.8,176.6 L332.9,178.1 L333.1,179.6 L333.2,181.1 L333.3,182.6 L333.4,184.1 L333.4,185.6 L333.4,187.1 L333.5,188.6 L333.5,190.1 L333.5,191.6 L333.5,193.1 L333.5,194.6 L333.5,196.1 L333.5,197.6 L333.4,199.1 L333.4,200.6 L333.3,202.2 L333.3,203.7 L333.2,205.2 L333.1,206.7 L332.9,208.2 L332.8,209.7 L332.7,211.2 L332.6,212.7 L332.5,214.2 L332.4,215.7 L332.2,217.2 L332.1,218.7 L332.0,220.2 L331.9,221.7 L331.8,223.2 L331.7,224.7 L331.6,226.2 L331.4,227.7 L331.3,229.2 L331.2,230.7 L331.0,232.2 L330.9,233.7 L330.9,235.2 L330.9,236.7 L330.9,238.2 L330.9,239.7 L330.9,241.2 L330.9,242.7 L330.9,244.2 L330.9,245.7 L330.9,247.2 L330.9,248.7 L330.9,250.2 L330.9,251.7 L331.0,253.2 L331.1,254.7 L331.2,256.2 L331.3,257.8 L331.4,259.3 L331.5,260.8 L331.6,262.3 L331.8,263.8 L331.9,265.3 L332.1,266.8 L332.3,268.3 L332.5,269.8 L332.7,271.3 L333.0,272.8 L333.2,274.3 L333.5,275.8 L333.8,277.3 L334.1,278.8 L334.4,280.3 L334.8,281.8 L335.2,283.3 L335.6,284.8 L336.0,286.3 L336.5,287.8 L336.9,289.3 L337.4,290.8 L337.9,292.3 L338.5,293.8 L339.0,295.3 L339.6,296.8 L340.2,298.3 L340.8,299.8 L341.4,301.3 L342.1,302.8 L342.8,304.3 L343.4,305.8 L344.1,307.3 L344.8,308.8 L345.5,310.3 L346.2,311.8 L346.9,313.4 L347.7,314.9 L348.4,316.4 L349.2,317.9 L349.9,319.4 L350.7,320.9 L351.5,322.4 L352.3,323.9 L353.1,325.4 L353.9,326.9 L354.7,328.4 L355.5,329.9 L356.4,331.4 L357.3,332.9 L358.2,334.4 L359.0,335.9 L360.0,337.4 L360.9,338.9 L361.8,340.4 L362.7,341.9 L363.7,343.4 L364.6,344.9 L365.6,346.4 L366.6,347.9 L367.6,349.4 L368.6,350.9 L369.6,352.4 L370.6,353.9 L371.6,355.4 L372.6,356.9 L373.7,358.4 L374.7,359.9 L375.8,361.4 L376.8,362.9 L377.9,364.4 L379.0,365.9 L380.2,367.5 L381.3,369.0 L382.4,370.5 L383.5,372.0 L384.6,373.5 L385.7,375.0 L386.9,376.5 L388.0,378.0 L389.2,379.5 L390.4,381.0 L391.5,382.5 L392.8,384.0 L394.0,385.5 L395.2,387.0 L396.4,388.5 L397.6,390.0 L398.9,391.5 L400.3,393.0 L401.6,394.5 L401.6,394.5 L400.9,393.0 L400.2,391.5 L399.5,390.0 L398.8,388.5 L398.1,387.0 L397.3,385.5 L396.6,384.0 L395.8,382.5 L395.1,381.0 L394.3,379.5 L393.6,378.0 L392.8,376.5 L392.0,375.0 L391.2,373.5 L390.4,372.0 L389.6,370.5 L388.8,369.0 L388.0,367.5 L387.1,365.9 L386.3,364.4 L385.4,362.9 L384.5,361.4 L383.7,359.9 L382.8,358.4 L381.9,356.9 L381.0,355.4 L380.1,353.9 L379.2,352.4 L378.3,350.9 L377.3,349.4 L376.4,347.9 L375.4,346.4 L374.4,344.9 L373.4,343.4 L372.4,341.9 L371.4,340.4 L370.4,338.9 L369.4,337.4 L368.4,335.9 L367.3,334.4 L366.3,332.9 L365.2,331.4 L364.2,329.9 L363.1,328.4 L362.0,326.9 L360.9,325.4 L359.9,323.9 L358.8,322.4 L357.7,320.9 L356.6,319.4 L355.5,317.9 L354.4,316.4 L353.2,314.9 L352.1,313.4 L351.0,311.8 L349.9,310.3 L348.7,308.8 L347.6,307.3 L346.5,305.8 L345.4,304.3 L344.3,302.8 L343.2,301.3 L342.1,299.8 L340.9,298.3 L339.8,296.8 L338.6,295.3 L337.5,293.8 L336.4,292.3 L335.2,290.8 L334.1,289.3 L333.0,287.8 L331.9,286.3 L330.8,284.8 L329.7,283.3 L328.6,281.8 L327.5,280.3 L326.4,278.8 L325.3,277.3 L324.2,275.8 L323.1,274.3 L322.1,272.8 L321.0,271.3 L320.0,269.8 L319.0,268.3 L317.9,266.8 L316.9,265.3 L315.9,263.8 L314.9,262.3 L313.8,260.8 L312.8,259.3 L311.8,257.8 L310.7,256.2 L309.7,254.7 L308.6,253.2 L307.5,251.7 L306.5,250.2 L305.4,248.7 L304.4,247.2 L303.3,245.7 L302.3,244.2 L301.4,242.7 L300.4,241.2 L299.5,239.7 L298.6,238.2 L297.8,236.7 L296.9,235.2 L296.0,233.7 L295.2,232.2 L294.3,230.7 L293.5,229.2 L292.7,227.7 L292.0,226.2 L291.3,224.7 L290.6,223.2 L289.9,221.7 L289.3,220.2 L288.7,218.7 L288.2,217.2 L287.7,215.7 L287.2,214.2 L286.8,212.7 L286.4,211.2 L286.1,209.7 L285.8,208.2 L285.5,206.7 L285.3,205.2 L285.1,203.7 L285.0,202.2 L284.8,200.6 L284.7,199.1 L284.7,197.6 L284.6,196.1 L284.6,194.6 L284.6,193.1 L284.6,191.6 L284.7,190.1 L284.9,188.6 L285.0,187.1 L285.2,185.6 L285.4,184.1 L285.6,182.6 L285.9,181.1 L286.2,179.6 L286.5,178.1 L286.8,176.6 L287.2,175.1 L287.6,173.6 L288.0,172.1 L288.5,170.6 L289.0,169.1 L289.5,167.6 L290.0,166.1 L290.6,164.6 L291.2,163.1 L291.7,161.6 L292.3,160.1 L292.8,158.6 L293.4,157.1 L293.9,155.6 L294.5,154.1 L295.1,152.6 L295.7,151.1 L296.3,149.6 L297.0,148.1 L297.6,146.5 L298.2,145.0 L298.8,143.5 L299.4,142.0 L300.1,140.5 L301.0,139.0 L302.0,137.5 L302.9,136.0 L303.7,134.5 L304.4,133.0 L305.2,131.5 L306.1,130.0 L307.0,128.5 L307.9,127.0 L308.7,125.5 L309.4,124.0 L310.2,122.5 L311.0,121.0 L311.8,119.5 L311.8,119.5 L312.5,121.0 L313.2,122.5 L313.8,124.0 L314.4,125.5 L315.0,127.0 L315.6,128.5 L316.1,130.0 L316.7,131.5 L317.1,133.0 L317.6,134.5 L318.1,136.0 L318.5,137.5 L318.9,139.0 L319.3,140.5 L319.6,142.0 L320.0,143.5 L320.4,145.0 L320.7,146.5 L321.0,148.1 L321.3,149.6 L321.6,151.1 L321.9,152.6 L322.1,154.1 L322.4,155.6 L322.6,157.1 L322.8,158.6 L323.0,160.1 L323.2,161.6 L323.4,163.1 L323.5,164.6 L323.7,166.1 L323.8,167.6 L323.9,169.1 L324.0,170.6 L324.1,172.1 L324.2,173.6 L324.3,175.1 L324.3,176.6 L324.3,178.1 L324.4,179.6 L324.4,181.1 L324.4,182.6 L324.4,184.1 L324.4,185.6 L324.4,187.1 L324.3,188.6 L324.2,190.1 L324.1,191.6 L324.0,193.1 L323.9,194.6 L323.8,196.1 L323.7,197.6 L323.5,199.1 L323.4,200.6 L323.2,202.2 L323.0,203.7 L322.8,205.2 L322.6,206.7 L322.4,208.2 L322.2,209.7 L321.9,211.2 L321.7,212.7 L321.5,214.2 L321.3,215.7 L321.0,217.2 L320.8,218.7 L320.6,220.2 L320.4,221.7 L320.1,223.2 L319.9,224.7 L319.7,226.2 L319.5,227.7 L319.2,229.2 L319.0,230.7 L318.8,232.2 L318.6,233.7 L318.4,235.2 L318.3,236.7 L318.2,238.2 L318.1,239.7 L318.0,241.2 L317.9,242.7 L317.8,244.2 L317.7,245.7 L317.6,247.2 L317.5,248.7 L317.4,250.2 L317.3,251.7 L317.3,253.2 L317.3,254.7 L317.2,256.2 L317.2,257.8 L317.3,259.3 L317.3,260.8 L317.4,262.3 L317.4,263.8 L317.5,265.3 L317.7,266.8 L317.8,268.3 L318.0,269.8 L318.1,271.3 L318.3,272.8 L318.6,274.3 L318.8,275.8 L319.1,277.3 L319.4,278.8 L319.7,280.3 L320.0,281.8 L320.4,283.3 L320.8,284.8 L321.3,286.3 L321.7,287.8 L322.2,289.3 L322.7,290.8 L323.3,292.3 L323.8,293.8 L324.4,295.3 L325.0,296.8 L325.6,298.3 L326.2,299.8 L326.8,301.3 L327.5,302.8 L328.1,304.3 L328.8,305.8 L329.5,307.3 L330.2,308.8 L330.9,310.3 L331.6,311.8 L332.4,313.4 L333.1,314.9 L333.9,316.4 L334.6,317.9 L335.4,319.4 L336.2,320.9 L337.0,322.4 L337.8,323.9 L338.7,325.4 L339.5,326.9 L340.4,328.4 L341.2,329.9 L342.1,331.4 L343.0,332.9 L344.0,334.4 L344.9,335.9 L345.9,337.4 L346.8,338.9 L347.8,340.4 L348.8,341.9 L349.8,343.4 L350.8,344.9 L351.8,346.4 L352.8,347.9 L353.9,349.4 L355.0,350.9 L356.0,352.4 L357.1,353.9 L358.2,355.4 L359.3,356.9 L360.4,358.4 L361.5,359.9 L362.7,361.4 L363.8,362.9 L365.0,364.4 L366.2,365.9 L367.4,367.5 L368.6,369.0 L369.8,370.5 L371.0,372.0 L372.2,373.5 L373.4,375.0 L374.6,376.5 L375.9,378.0 L377.1,379.5 L378.4,381.0 L379.7,382.5 L381.0,384.0 L382.3,385.5 L383.6,387.0 L384.9,388.5 L386.2,390.0 L387.7,391.5 L389.2,393.0 L390.6,394.5 L390.6,394.5 L390.0,393.0 L389.3,391.5 L388.6,390.0 L387.9,388.5 L387.2,387.0 L386.5,385.5 L385.8,384.0 L385.0,382.5 L384.2,381.0 L383.5,379.5 L382.7,378.0 L381.9,376.5 L381.1,375.0 L380.3,373.5 L379.5,372.0 L378.7,370.5 L377.8,369.0 L377.0,367.5 L376.1,365.9 L375.2,364.4 L374.3,362.9 L373.4,361.4 L372.5,359.9 L371.6,358.4 L370.7,356.9 L369.8,355.4 L368.8,353.9 L367.9,352.4 L366.9,350.9 L365.9,349.4 L364.9,347.9 L363.9,346.4 L362.9,344.9 L361.8,343.4 L360.8,341.9 L359.7,340.4 L358.6,338.9 L357.6,337.4 L356.5,335.9 L355.4,334.4 L354.3,332.9 L353.2,331.4 L352.1,329.9 L351.0,328.4 L349.8,326.9 L348.7,325.4 L347.6,323.9 L346.5,322.4 L345.4,320.9 L344.3,319.4 L343.1,317.9 L342.0,316.4 L340.8,314.9 L339.7,313.4 L338.5,311.8 L337.3,310.3 L336.2,308.8 L335.0,307.3 L333.8,305.8 L332.7,304.3 L331.6,302.8 L330.4,301.3 L329.3,299.8 L328.1,298.3 L326.9,296.8 L325.8,295.3 L324.6,293.8 L323.4,292.3 L322.3,290.8 L321.1,289.3 L320.0,287.8 L318.9,286.3 L317.8,284.8 L316.6,283.3 L315.5,281.8 L314.4,280.3 L313.3,278.8 L312.2,277.3 L311.0,275.8 L309.9,274.3 L308.8,272.8 L307.6,271.3 L306.5,269.8 L305.4,268.3 L304.4,266.8 L303.3,265.3 L302.1,263.8 L301.0,262.3 L299.9,260.8 L298.8,259.3 L297.6,257.8 L296.5,256.2 L295.3,254.7 L294.2,253.2 L293.0,251.7 L291.9,250.2 L290.8,248.7 L289.7,247.2 L288.6,245.7 L287.6,244.2 L286.6,242.7 L285.6,241.2 L284.7,239.7 L283.8,238.2 L283.0,236.7 L282.1,235.2 L281.2,233.7 L280.4,232.2 L279.5,230.7 L278.7,229.2 L278.0,227.7 L277.3,226.2 L276.6,224.7 L275.9,223.2 L275.3,221.7 L274.8,220.2 L274.3,218.7 L273.8,217.2 L273.4,215.7 L273.0,214.2 L272.7,212.7 L272.5,211.2 L272.3,209.7 L272.2,208.2 L272.1,206.7 L272.0,205.2 L272.0,203.7 L272.0,202.2 L272.0,200.6 L272.1,199.1 L272.2,197.6 L272.4,196.1 L272.5,194.6 L272.7,193.1 L273.0,191.6 L273.3,190.1 L273.6,188.6 L274.0,187.1 L274.3,185.6 L274.7,184.1 L275.1,182.6 L275.5,181.1 L276.0,179.6 L276.4,178.1 L276.9,176.6 L277.4,175.1 L278.0,173.6 L278.6,172.1 L279.2,170.6 L279.8,169.1 L280.4,167.6 L281.1,166.1 L281.8,164.6 L282.4,163.1 L283.1,161.6 L283.8,160.1 L284.4,158.6 L285.1,157.1 L285.7,155.6 L286.4,154.1 L287.1,152.6 L287.8,151.1 L288.5,149.6 L289.2,148.1 L289.9,146.5 L290.6,145.0 L291.3,143.5 L292.0,142.0 L292.8,140.5 L293.8,139.0 L294.8,137.5 L295.8,136.0 L296.7,134.5 L297.5,133.0 L298.4,131.5 L299.3,130.0 L300.4,128.5 L301.4,127.0 L302.2,125.5 L303.1,124.0 L303.9,122.5 L304.9,121.0 L305.8,119.5 L305.8,119.5 L306.5,121.0 L307.1,122.5 L307.7,124.0 L308.3,125.5 L308.9,127.0 L309.4,128.5 L309.9,130.0 L310.4,131.5 L310.9,133.0 L311.3,134.5 L311.7,136.0 L312.1,137.5 L312.4,139.0 L312.8,140.5 L313.1,142.0 L313.4,143.5 L313.7,145.0 L314.0,146.5 L314.3,148.1 L314.5,149.6 L314.8,151.1 L315.0,152.6 L315.2,154.1 L315.4,155.6 L315.5,157.1 L315.7,158.6 L315.9,160.1 L316.0,161.6 L316.1,163.1 L316.2,164.6 L316.2,166.1 L316.3,167.6 L316.3,169.1 L316.3,170.6 L316.3,172.1 L316.3,173.6 L316.3,175.1 L316.3,176.6 L316.3,178.1 L316.3,179.6 L316.2,181.1 L316.1,182.6 L316.0,184.1 L315.9,185.6 L315.7,187.1 L315.6,188.6 L315.4,190.1 L315.2,191.6 L314.9,193.1 L314.7,194.6 L314.5,196.1 L314.3,197.6 L314.0,199.1 L313.8,200.6 L313.5,202.2 L313.2,203.7 L312.9,205.2 L312.6,206.7 L312.2,208.2 L311.9,209.7 L311.5,211.2 L311.2,212.7 L310.8,214.2 L310.5,215.7 L310.2,217.2 L309.8,218.7 L309.5,220.2 L309.1,221.7 L308.8,223.2 L308.4,224.7 L308.1,226.2 L307.7,227.7 L307.4,229.2 L307.0,230.7 L306.7,232.2 L306.4,233.7 L306.1,235.2 L305.9,236.7 L305.7,238.2 L305.5,239.7 L305.3,241.2 L305.1,242.7 L304.9,244.2 L304.6,245.7 L304.4,247.2 L304.1,248.7 L303.9,250.2 L303.7,251.7 L303.5,253.2 L303.4,254.7 L303.2,256.2 L303.2,257.8 L303.1,259.3 L303.0,260.8 L303.0,262.3 L303.0,263.8 L303.0,265.3 L303.1,266.8 L303.1,268.3 L303.2,269.8 L303.3,271.3 L303.5,272.8 L303.7,274.3 L303.9,275.8 L304.1,277.3 L304.4,278.8 L304.7,280.3 L305.0,281.8 L305.4,283.3 L305.8,284.8 L306.3,286.3 L306.7,287.8 L307.2,289.3 L307.8,290.8 L308.4,292.3 L308.9,293.8 L309.6,295.3 L310.2,296.8 L310.8,298.3 L311.5,299.8 L312.2,301.3 L312.9,302.8 L313.6,304.3 L314.3,305.8 L315.0,307.3 L315.7,308.8 L316.5,310.3 L317.3,311.8 L318.1,313.4 L318.9,314.9 L319.7,316.4 L320.5,317.9 L321.4,319.4 L322.2,320.9 L323.1,322.4 L323.9,323.9 L324.8,325.4 L325.7,326.9 L326.6,328.4 L327.5,329.9 L328.5,331.4 L329.4,332.9 L330.4,334.4 L331.4,335.9 L332.4,337.4 L333.4,338.9 L334.4,340.4 L335.5,341.9 L336.5,343.4 L337.6,344.9 L338.7,346.4 L339.8,347.9 L340.9,349.4 L342.1,350.9 L343.2,352.4 L344.4,353.9 L345.5,355.4 L346.7,356.9 L347.9,358.4 L349.1,359.9 L350.4,361.4 L351.6,362.9 L352.9,364.4 L354.2,365.9 L355.4,367.5 L356.7,369.0 L358.0,370.5 L359.3,372.0 L360.5,373.5 L361.8,375.0 L363.1,376.5 L364.4,378.0 L365.8,379.5 L367.1,381.0 L368.5,382.5 L369.9,384.0 L371.3,385.5 L372.6,387.0 L374.0,388.5 L375.4,390.0 L377.0,391.5 L378.5,393.0 L380.0,394.5 L380.0,394.5 L379.5,393.0 L378.9,391.5 L378.2,390.0 L377.6,388.5 L376.9,387.0 L376.2,385.5 L375.4,384.0 L374.6,382.5 L373.8,381.0 L373.0,379.5 L372.2,378.0 L371.4,376.5 L370.5,375.0 L369.6,373.5 L368.7,372.0 L367.8,370.5 L366.9,369.0 L366.0,367.5 L365.0,365.9 L364.1,364.4 L363.1,362.9 L362.2,361.4 L361.2,359.9 L360.2,358.4 L359.2,356.9 L358.3,355.4 L357.3,353.9 L356.2,352.4 L355.2,350.9 L354.2,349.4 L353.1,347.9 L352.1,346.4 L351.0,344.9 L349.9,343.4 L348.8,341.9 L347.7,340.4 L346.7,338.9 L345.6,337.4 L344.5,335.9 L343.4,334.4 L342.2,332.9 L341.1,331.4 L340.0,329.9 L338.9,328.4 L337.8,326.9 L336.7,325.4 L335.6,323.9 L334.5,322.4 L333.4,320.9 L332.3,319.4 L331.1,317.9 L330.0,316.4 L328.8,314.9 L327.6,313.4 L326.5,311.8 L325.3,310.3 L324.1,308.8 L322.9,307.3 L321.7,305.8 L320.6,304.3 L319.4,302.8 L318.2,301.3 L317.0,299.8 L315.8,298.3 L314.6,296.8 L313.4,295.3 L312.2,293.8 L311.0,292.3 L309.8,290.8 L308.6,289.3 L307.5,287.8 L306.3,286.3 L305.1,284.8 L303.9,283.3 L302.7,281.8 L301.5,280.3 L300.3,278.8 L299.1,277.3 L297.9,275.8 L296.7,274.3 L295.4,272.8 L294.2,271.3 L293.0,269.8 L291.8,268.3 L290.6,266.8 L289.4,265.3 L288.2,263.8 L286.9,262.3 L285.7,260.8 L284.4,259.3 L283.1,257.8 L281.9,256.2 L280.7,254.7 L279.4,253.2 L278.2,251.7 L277.0,250.2 L275.9,248.7 L274.7,247.2 L273.6,245.7 L272.6,244.2 L271.6,242.7 L270.6,241.2 L269.7,239.7 L268.8,238.2 L268.0,236.7 L267.1,235.2 L266.3,233.7 L265.5,232.2 L264.7,230.7 L263.9,229.2 L263.2,227.7 L262.6,226.2 L262.0,224.7 L261.4,223.2 L260.9,221.7 L260.4,220.2 L260.1,218.7 L259.8,217.2 L259.5,215.7 L259.3,214.2 L259.1,212.7 L259.1,211.2 L259.1,209.7 L259.2,208.2 L259.3,206.7 L259.4,205.2 L259.6,203.7 L259.7,202.2 L260.0,200.6 L260.3,199.1 L260.6,197.6 L261.0,196.1 L261.4,194.6 L261.8,193.1 L262.2,191.6 L262.7,190.1 L263.3,188.6 L263.8,187.1 L264.4,185.6 L265.0,184.1 L265.6,182.6 L266.1,181.1 L266.8,179.6 L267.4,178.1 L268.0,176.6 L268.7,175.1 L269.4,173.6 L270.1,172.1 L270.9,170.6 L271.6,169.1 L272.4,167.6 L273.1,166.1 L273.9,164.6 L274.8,163.1 L275.5,161.6 L276.3,160.1 L277.0,158.6 L277.8,157.1 L278.5,155.6 L279.3,154.1 L280.0,152.6 L280.8,151.1 L281.6,149.6 L282.4,148.1 L283.2,146.5 L283.9,145.0 L284.6,143.5 L285.4,142.0 L286.3,140.5 L287.3,139.0 L288.4,137.5 L289.4,136.0 L290.4,134.5 L291.3,133.0 L292.2,131.5 L293.3,130.0 L294.4,128.5 L295.5,127.0 L296.5,125.5 L297.4,124.0 L298.4,122.5 L299.4,121.0 L300.5,119.5 L300.5,119.5 L301.1,121.0 L301.7,122.5 L302.3,124.0 L302.9,125.5 L303.4,127.0 L303.9,128.5 L304.4,130.0 L304.8,131.5 L305.2,133.0 L305.6,134.5 L306.0,136.0 L306.3,137.5 L306.6,139.0 L306.9,140.5 L307.2,142.0 L307.5,143.5 L307.8,145.0 L308.0,146.5 L308.3,148.1 L308.5,149.6 L308.7,151.1 L308.9,152.6 L309.0,154.1 L309.2,155.6 L309.3,157.1 L309.4,158.6 L309.5,160.1 L309.5,161.6 L309.5,163.1 L309.5,164.6 L309.5,166.1 L309.5,167.6 L309.5,169.1 L309.4,170.6 L309.3,172.1 L309.2,173.6 L309.1,175.1 L309.0,176.6 L308.9,178.1 L308.8,179.6 L308.6,181.1 L308.4,182.6 L308.2,184.1 L308.0,185.6 L307.7,187.1 L307.5,188.6 L307.2,190.1 L306.9,191.6 L306.5,193.1 L306.2,194.6 L305.9,196.1 L305.6,197.6 L305.2,199.1 L304.9,200.6 L304.5,202.2 L304.1,203.7 L303.6,205.2 L303.2,206.7 L302.7,208.2 L302.2,209.7 L301.8,211.2 L301.3,212.7 L300.8,214.2 L300.4,215.7 L299.9,217.2 L299.4,218.7 L298.9,220.2 L298.5,221.7 L298.0,223.2 L297.5,224.7 L297.1,226.2 L296.6,227.7 L296.1,229.2 L295.6,230.7 L295.2,232.2 L294.7,233.7 L294.3,235.2 L294.0,236.7 L293.6,238.2 L293.3,239.7 L293.0,241.2 L292.7,242.7 L292.3,244.2 L292.0,245.7 L291.5,247.2 L291.1,248.7 L290.7,250.2 L290.4,251.7 L290.1,253.2 L289.8,254.7 L289.5,256.2 L289.3,257.8 L289.0,259.3 L288.8,260.8 L288.7,262.3 L288.6,263.8 L288.6,265.3 L288.6,266.8 L288.6,268.3 L288.6,269.8 L288.6,271.3 L288.6,272.8 L288.8,274.3 L289.0,275.8 L289.2,277.3 L289.4,278.8 L289.7,280.3 L290.0,281.8 L290.4,283.3 L290.8,284.8 L291.2,286.3 L291.7,287.8 L292.3,289.3 L292.8,290.8 L293.4,292.3 L294.1,293.8 L294.7,295.3 L295.4,296.8 L296.1,298.3 L296.8,299.8 L297.6,301.3 L298.3,302.8 L299.1,304.3 L299.9,305.8 L300.7,307.3 L301.5,308.8 L302.3,310.3 L303.2,311.8 L304.1,313.4 L305.0,314.9 L305.9,316.4 L306.8,317.9 L307.7,319.4 L308.6,320.9 L309.6,322.4 L310.5,323.9 L311.4,325.4 L312.4,326.9 L313.4,328.4 L314.3,329.9 L315.3,331.4 L316.3,332.9 L317.4,334.4 L318.4,335.9 L319.5,337.4 L320.6,338.9 L321.7,340.4 L322.8,341.9 L324.0,343.4 L325.1,344.9 L326.3,346.4 L327.5,347.9 L328.7,349.4 L330.0,350.9 L331.2,352.4 L332.5,353.9 L333.7,355.4 L335.0,356.9 L336.3,358.4 L337.6,359.9 L338.9,361.4 L340.2,362.9 L341.6,364.4 L342.9,365.9 L344.3,367.5 L345.7,369.0 L347.0,370.5 L348.4,372.0 L349.7,373.5 L351.1,375.0 L352.5,376.5 L353.8,378.0 L355.2,379.5 L356.6,381.0 L358.1,382.5 L359.5,384.0 L361.0,385.5 L362.4,387.0 L363.8,388.5 L365.3,390.0 L366.9,391.5 L368.5,393.0 L370.0,394.5 L370.0,394.5 L369.6,393.0 L369.1,391.5 L368.6,390.0 L368.0,388.5 L367.3,387.0 L366.6,385.5 L365.8,384.0 L365.0,382.5 L364.2,381.0 L363.3,379.5 L362.3,378.0 L361.4,376.5 L360.4,375.0 L359.4,373.5 L358.4,372.0 L357.4,370.5 L356.3,369.0 L355.3,367.5 L354.2,365.9 L353.1,364.4 L352.0,362.9 L350.9,361.4 L349.9,359.9 L348.8,358.4 L347.7,356.9 L346.7,355.4 L345.6,353.9 L344.5,352.4 L343.4,350.9 L342.4,349.4 L341.3,347.9 L340.2,346.4 L339.2,344.9 L338.1,343.4 L337.1,341.9 L336.0,340.4 L335.0,338.9 L333.9,337.4 L332.9,335.9 L331.8,334.4 L330.8,332.9 L329.7,331.4 L328.7,329.9 L327.7,328.4 L326.6,326.9 L325.6,325.4 L324.6,323.9 L323.5,322.4 L322.5,320.9 L321.4,319.4 L320.3,317.9 L319.1,316.4 L318.0,314.9 L316.8,313.4 L315.7,311.8 L314.5,310.3 L313.2,308.8 L312.0,307.3 L310.8,305.8 L309.6,304.3 L308.4,302.8 L307.2,301.3 L305.9,299.8 L304.7,298.3 L303.4,296.8 L302.1,295.3 L300.9,293.8 L299.6,292.3 L298.3,290.8 L297.1,289.3 L295.8,287.8 L294.5,286.3 L293.3,284.8 L292.0,283.3 L290.7,281.8 L289.4,280.3 L288.1,278.8 L286.7,277.3 L285.4,275.8 L284.1,274.3 L282.7,272.8 L281.3,271.3 L280.0,269.8 L278.7,268.3 L277.3,266.8 L276.0,265.3 L274.6,263.8 L273.3,262.3 L271.9,260.8 L270.5,259.3 L269.1,257.8 L267.8,256.2 L266.5,254.7 L265.2,253.2 L263.9,251.7 L262.7,250.2 L261.5,248.7 L260.4,247.2 L259.3,245.7 L258.2,244.2 L257.2,242.7 L256.3,241.2 L255.4,239.7 L254.6,238.2 L253.7,236.7 L253.0,235.2 L252.2,233.7 L251.4,232.2 L250.7,230.7 L250.0,229.2 L249.4,227.7 L248.9,226.2 L248.5,224.7 L248.0,223.2 L247.6,221.7 L247.4,220.2 L247.3,218.7 L247.3,217.2 L247.4,215.7 L247.4,214.2 L247.4,212.7 L247.4,211.2 L247.5,209.7 L247.8,208.2 L248.2,206.7 L248.6,205.2 L249.1,203.7 L249.5,202.2 L250.0,200.6 L250.5,199.1 L251.1,197.6 L251.6,196.1 L252.2,194.6 L252.8,193.1 L253.5,191.6 L254.2,190.1 L254.9,188.6 L255.7,187.1 L256.4,185.6 L257.2,184.1 L257.9,182.6 L258.7,181.1 L259.4,179.6 L260.2,178.1 L261.0,176.6 L261.8,175.1 L262.6,173.6 L263.5,172.1 L264.4,170.6 L265.2,169.1 L266.1,167.6 L267.0,166.1 L267.9,164.6 L268.8,163.1 L269.7,161.6 L270.6,160.1 L271.4,158.6 L272.2,157.1 L273.0,155.6 L273.9,154.1 L274.7,152.6 L275.6,151.1 L276.4,149.6 L277.3,148.1 L278.1,146.5 L278.9,145.0 L279.7,143.5 L280.5,142.0 L281.4,140.5 L282.5,139.0 L283.6,137.5 L284.7,136.0 L285.8,134.5 L286.8,133.0 L287.8,131.5 L289.0,130.0 L290.2,128.5 L291.4,127.0 L292.5,125.5 L293.6,124.0 L294.7,122.5 L295.9,121.0 L297.1,119.5 L297.1,119.5 L297.7,121.0 L298.2,122.5 L298.8,124.0 L299.3,125.5 L299.8,127.0 L300.3,128.5 L300.7,130.0 L301.1,131.5 L301.5,133.0 L301.9,134.5 L302.2,136.0 L302.6,137.5 L302.9,139.0 L303.2,140.5 L303.4,142.0 L303.7,143.5 L304.0,145.0 L304.2,146.5 L304.4,148.1 L304.6,149.6 L304.7,151.1 L304.9,152.6 L305.0,154.1 L305.0,155.6 L305.1,157.1 L305.2,158.6 L305.2,160.1 L305.2,161.6 L305.1,163.1 L305.0,164.6 L304.9,166.1 L304.7,167.6 L304.6,169.1 L304.4,170.6 L304.2,172.1 L304.0,173.6 L303.8,175.1 L303.6,176.6 L303.3,178.1 L303.1,179.6 L302.8,181.1 L302.5,182.6 L302.2,184.1 L301.9,185.6 L301.5,187.1 L301.1,188.6 L300.8,190.1 L300.3,191.6 L299.9,193.1 L299.5,194.6 L299.1,196.1 L298.7,197.6 L298.2,199.1 L297.8,200.6 L297.3,202.2 L296.8,203.7 L296.2,205.2 L295.6,206.7 L295.0,208.2 L294.4,209.7 L293.9,211.2 L293.3,212.7 L292.7,214.2 L292.1,215.7 L291.5,217.2 L290.9,218.7 L290.3,220.2 L289.7,221.7 L289.1,223.2 L288.5,224.7 L287.9,226.2 L287.3,227.7 L286.7,229.2 L286.1,230.7 L285.5,232.2 L284.9,233.7 L284.4,235.2 L283.9,236.7 L283.4,238.2 L283.0,239.7 L282.6,241.2 L282.1,242.7 L281.6,244.2 L281.0,245.7 L280.4,247.2 L279.8,248.7 L279.3,250.2 L278.8,251.7 L278.2,253.2 L277.8,254.7 L277.3,256.2 L276.9,257.8 L276.6,259.3 L276.2,260.8 L276.0,262.3 L275.7,263.8 L275.6,265.3 L275.5,266.8 L275.3,268.3 L275.3,269.8 L275.2,271.3 L275.3,272.8 L275.3,274.3 L275.4,275.8 L275.6,277.3 L275.7,278.8 L275.9,280.3 L276.2,281.8 L276.6,283.3 L277.0,284.8 L277.4,286.3 L277.9,287.8 L278.4,289.3 L279.0,290.8 L279.6,292.3 L280.2,293.8 L280.9,295.3 L281.7,296.8 L282.4,298.3 L283.2,299.8 L284.0,301.3 L284.8,302.8 L285.6,304.3 L286.5,305.8 L287.4,307.3 L288.3,308.8 L289.3,310.3 L290.3,311.8 L291.3,313.4 L292.3,314.9 L293.4,316.4 L294.4,317.9 L295.4,319.4 L296.5,320.9 L297.5,322.4 L298.5,323.9 L299.6,325.4 L300.6,326.9 L301.7,328.4 L302.7,329.9 L303.8,331.4 L304.9,332.9 L306.0,334.4 L307.1,335.9 L308.3,337.4 L309.5,338.9 L310.6,340.4 L311.9,341.9 L313.1,343.4 L314.4,344.9 L315.7,346.4 L316.9,347.9 L318.2,349.4 L319.5,350.9 L320.9,352.4 L322.2,353.9 L323.5,355.4 L324.8,356.9 L326.2,358.4 L327.5,359.9 L328.9,361.4 L330.3,362.9 L331.7,364.4 L333.1,365.9 L334.6,367.5 L336.0,369.0 L337.5,370.5 L338.9,372.0 L340.4,373.5 L341.8,375.0 L343.3,376.5 L344.7,378.0 L346.2,379.5 L347.7,381.0 L349.2,382.5 L350.7,384.0 L352.2,385.5 L353.7,387.0 L355.2,388.5 L356.7,390.0 L358.4,391.5 L360.1,393.0 L361.7,394.5 L361.7,394.5 L361.5,393.0 L361.2,391.5 L360.7,390.0 L360.2,388.5 L359.6,387.0 L358.9,385.5 L358.1,384.0 L357.2,382.5 L356.3,381.0 L355.4,379.5 L354.3,378.0 L353.3,376.5 L352.2,375.0 L351.1,373.5 L349.9,372.0 L348.7,370.5 L347.5,369.0 L346.3,367.5 L345.0,365.9 L343.8,364.4 L342.5,362.9 L341.3,361.4 L340.2,359.9 L339.0,358.4 L337.8,356.9 L336.7,355.4 L335.6,353.9 L334.5,352.4 L333.4,350.9 L332.3,349.4 L331.2,347.9 L330.2,346.4 L329.2,344.9 L328.2,343.4 L327.2,341.9 L326.2,340.4 L325.2,338.9 L324.3,337.4 L323.3,335.9 L322.4,334.4 L321.4,332.9 L320.4,331.4 L319.5,329.9 L318.5,328.4 L317.6,326.9 L316.6,325.4 L315.6,323.9 L314.6,322.4 L313.6,320.9 L312.5,319.4 L311.4,317.9 L310.3,316.4 L309.1,314.9 L307.9,313.4 L306.7,311.8 L305.4,310.3 L304.1,308.8 L302.8,307.3 L301.5,305.8 L300.2,304.3 L298.9,302.8 L297.6,301.3 L296.3,299.8 L295.0,298.3 L293.7,296.8 L292.3,295.3 L291.0,293.8 L289.7,292.3 L288.3,290.8 L287.0,289.3 L285.6,287.8 L284.2,286.3 L282.8,284.8 L281.4,283.3 L280.0,281.8 L278.5,280.3 L277.1,278.8 L275.6,277.3 L274.1,275.8 L272.6,274.3 L271.1,272.8 L269.5,271.3 L268.0,269.8 L266.5,268.3 L265.0,266.8 L263.5,265.3 L262.0,263.8 L260.5,262.3 L258.9,260.8 L257.4,259.3 L255.9,257.8 L254.5,256.2 L253.1,254.7 L251.7,253.2 L250.4,251.7 L249.2,250.2 L248.0,248.7 L246.8,247.2 L245.7,245.7 L244.6,244.2 L243.7,242.7 L242.7,241.2 L241.9,239.7 L241.0,238.2 L240.3,236.7 L239.6,235.2 L238.9,233.7 L238.2,232.2 L237.5,230.7 L237.0,229.2 L236.6,227.7 L236.3,226.2 L236.1,224.7 L236.0,223.2 L235.8,221.7 L235.8,220.2 L235.8,218.7 L235.9,217.2 L236.1,215.7 L236.5,214.2 L236.9,212.7 L237.3,211.2 L237.8,209.7 L238.3,208.2 L239.0,206.7 L239.6,205.2 L240.3,203.7 L241.0,202.2 L241.7,200.6 L242.4,199.1 L243.2,197.6 L243.9,196.1 L244.7,194.6 L245.5,193.1 L246.3,191.6 L247.2,190.1 L248.1,188.6 L249.0,187.1 L249.8,185.6 L250.7,184.1 L251.6,182.6 L252.5,181.1 L253.3,179.6 L254.2,178.1 L255.1,176.6 L256.1,175.1 L257.0,173.6 L258.0,172.1 L258.9,170.6 L259.9,169.1 L260.9,167.6 L261.9,166.1 L262.9,164.6 L263.9,163.1 L264.9,161.6 L265.8,160.1 L266.7,158.6 L267.6,157.1 L268.5,155.6 L269.4,154.1 L270.3,152.6 L271.3,151.1 L272.2,149.6 L273.1,148.1 L274.0,146.5 L274.8,145.0 L275.6,143.5 L276.5,142.0 L277.5,140.5 L278.6,139.0 L279.9,137.5 L281.1,136.0 L282.2,134.5 L283.3,133.0 L284.4,131.5 L285.6,130.0 L287.0,128.5 L288.3,127.0 L289.5,125.5 L290.7,124.0 L291.9,122.5 L293.2,121.0 L294.5,119.5 L294.5,119.5 L295.0,121.0 L295.6,122.5 L296.1,124.0 L296.6,125.5 L297.1,127.0 L297.5,128.5 L298.0,130.0 L298.4,131.5 L298.8,133.0 L299.2,134.5 L299.6,136.0 L299.9,137.5 L300.3,139.0 L300.6,140.5 L300.9,142.0 L301.2,143.5 L301.4,145.0 L301.6,146.5 L301.8,148.1 L302.0,149.6 L302.2,151.1 L302.3,152.6 L302.4,154.1 L302.4,155.6 L302.3,157.1 L302.3,158.6 L302.3,160.1 L302.3,161.6 L302.2,163.1 L301.9,164.6 L301.7,166.1 L301.4,167.6 L301.1,169.1 L300.8,170.6 L300.5,172.1 L300.2,173.6 L299.8,175.1 L299.5,176.6 L299.1,178.1 L298.7,179.6 L298.3,181.1 L297.9,182.6 L297.5,184.1 L297.0,185.6 L296.6,187.1 L296.1,188.6 L295.6,190.1 L295.1,191.6 L294.6,193.1 L294.1,194.6 L293.6,196.1 L293.1,197.6 L292.6,199.1 L292.0,200.6 L291.4,202.2 L290.8,203.7 L290.2,205.2 L289.5,206.7 L288.8,208.2 L288.1,209.7 L287.4,211.2 L286.7,212.7 L286.0,214.2 L285.3,215.7 L284.6,217.2 L283.9,218.7 L283.2,220.2 L282.5,221.7 L281.8,223.2 L281.1,224.7 L280.3,226.2 L279.6,227.7 L278.9,229.2 L278.2,230.7 L277.5,232.2 L276.8,233.7 L276.1,235.2 L275.5,236.7 L274.9,238.2 L274.3,239.7 L273.8,241.2 L273.2,242.7 L272.6,244.2 L271.8,245.7 L271.1,247.2 L270.3,248.7 L269.6,250.2 L268.9,251.7 L268.2,253.2 L267.5,254.7 L266.9,256.2 L266.4,257.8 L265.9,259.3 L265.4,260.8 L265.0,262.3 L264.6,263.8 L264.4,265.3 L264.1,266.8 L263.9,268.3 L263.7,269.8 L263.7,271.3 L263.7,272.8 L263.7,274.3 L263.7,275.8 L263.8,277.3 L263.8,278.8 L264.0,280.3 L264.3,281.8 L264.6,283.3 L265.0,284.8 L265.3,286.3 L265.8,287.8 L266.3,289.3 L266.9,290.8 L267.5,292.3 L268.1,293.8 L268.9,295.3 L269.6,296.8 L270.4,298.3 L271.3,299.8 L272.1,301.3 L273.0,302.8 L274.0,304.3 L274.9,305.8 L275.9,307.3 L277.0,308.8 L278.1,310.3 L279.2,311.8 L280.4,313.4 L281.5,314.9 L282.7,316.4 L283.9,317.9 L285.1,319.4 L286.3,320.9 L287.5,322.4 L288.6,323.9 L289.8,325.4 L290.9,326.9 L292.1,328.4 L293.3,329.9 L294.4,331.4 L295.6,332.9 L296.8,334.4 L298.1,335.9 L299.3,337.4 L300.6,338.9 L301.8,340.4 L303.1,341.9 L304.5,343.4 L305.8,344.9 L307.1,346.4 L308.5,347.9 L309.8,349.4 L311.2,350.9 L312.5,352.4 L313.9,353.9 L315.3,355.4 L316.6,356.9 L318.0,358.4 L319.4,359.9 L320.8,361.4 L322.2,362.9 L323.7,364.4 L325.3,365.9 L326.8,367.5 L328.4,369.0 L330.0,370.5 L331.5,372.0 L333.1,373.5 L334.7,375.0 L336.3,376.5 L337.9,378.0 L339.5,379.5 L341.0,381.0 L342.7,382.5 L344.3,384.0 L345.9,385.5 L347.5,387.0 L349.1,388.5 L350.8,390.0 L352.6,391.5 L354.4,393.0 L356.3,394.5 L356.2,394.9 L356.1,393.4 L355.7,391.9 L355.3,390.4 L354.8,388.9 L354.2,387.4 L353.5,385.9 L352.5,384.4 L351.3,382.9 L350.0,381.4 L348.8,379.9 L347.6,378.4 L346.5,376.9 L345.3,375.4 L344.1,373.9 L343.0,372.4 L341.9,370.9 L341.0,369.4 L340.1,367.9 L339.3,366.4 L338.6,364.9 L338.0,363.4 L337.4,361.8 L336.7,360.3 L336.0,358.8 L335.2,357.3 L334.3,355.8 L333.2,354.3 L332.1,352.8 L330.9,351.3 L329.9,349.8 L329.0,348.3 L328.1,346.8 L327.3,345.3 L326.4,343.8 L325.5,342.3 L324.6,340.8 L323.5,339.3 L322.3,337.8 L321.0,336.3 L319.6,334.8 L318.1,333.3 L316.7,331.8 L315.2,330.3 L313.8,328.8 L312.4,327.3 L311.0,325.8 L309.6,324.3 L308.2,322.8 L306.8,321.3 L305.5,319.8 L304.1,318.3 L302.7,316.8 L301.4,315.3 L300.0,313.8 L298.7,312.3 L297.4,310.8 L296.1,309.3 L294.8,307.8 L293.5,306.3 L292.2,304.8 L290.9,303.3 L289.6,301.8 L288.2,300.3 L286.9,298.8 L285.5,297.2 L284.2,295.7 L282.9,294.2 L281.5,292.7 L280.1,291.2 L278.7,289.7 L277.2,288.2 L275.7,286.7 L274.1,285.2 L272.5,283.7 L270.9,282.2 L269.2,280.7 L267.5,279.2 L265.9,277.7 L264.3,276.2 L262.7,274.7 L261.2,273.2 L259.6,271.7 L258.1,270.2 L256.6,268.7 L255.2,267.2 L253.7,265.7 L252.2,264.2 L250.7,262.7 L249.2,261.2 L247.6,259.7 L246.1,258.2 L244.5,256.7 L242.9,255.2 L241.4,253.7 L239.9,252.2 L238.6,250.7 L237.3,249.2 L236.2,247.7 L235.1,246.2 L233.9,244.7 L232.7,243.2 L231.4,241.7 L230.1,240.2 L229.0,238.7 L228.0,237.2 L227.4,235.7 L226.8,234.2 L226.3,232.6 L225.8,231.1 L225.5,229.6 L225.3,228.1 L225.3,226.6 L225.4,225.1 L225.7,223.6 L226.1,222.1 L226.5,220.6 L227.0,219.1 L227.5,217.6 L228.0,216.1 L228.5,214.6 L229.2,213.1 L229.9,211.6 L230.7,210.1 L231.6,208.6 L232.4,207.1 L233.3,205.6 L234.1,204.1 L234.9,202.6 L235.8,201.1 L236.6,199.6 L237.5,198.1 L238.4,196.6 L239.3,195.1 L240.3,193.6 L241.2,192.1 L242.1,190.6 L243.1,189.1 L244.0,187.6 L244.9,186.1 L245.9,184.6 L246.8,183.1 L247.8,181.6 L248.8,180.1 L249.7,178.6 L250.7,177.1 L251.7,175.6 L252.6,174.1 L253.6,172.6 L254.6,171.1 L255.6,169.6 L256.6,168.0 L257.6,166.5 L258.6,165.0 L259.7,163.5 L260.7,162.0 L261.8,160.5 L262.8,159.0 L263.9,157.5 L265.0,156.0 L266.0,154.5 L267.1,153.0 L268.2,151.5 L269.3,150.0 L270.3,148.5 L271.4,147.0 L272.5,145.5 L273.6,144.0 L274.7,142.5 L275.8,141.0 L276.9,139.5 L278.0,138.0 L279.1,136.5 L279.1,136.5 L279.6,138.0 L280.0,139.5 L280.5,141.0 L280.9,142.5 L281.3,144.0 L281.7,145.5 L282.0,147.0 L282.3,148.5 L282.6,150.0 L282.9,151.5 L283.2,153.0 L283.5,154.5 L283.7,155.9 L283.9,157.4 L284.0,158.9 L284.1,160.4 L284.2,161.9 L284.3,163.4 L284.4,164.9 L284.4,166.4 L284.5,167.9 L284.5,169.4 L284.5,170.9 L284.5,172.4 L284.4,173.9 L284.3,175.4 L284.2,176.9 L284.1,178.4 L284.0,179.9 L283.9,181.4 L283.8,182.9 L283.7,184.4 L283.6,185.9 L283.4,187.4 L283.2,188.9 L282.9,190.4 L282.3,191.9 L281.5,193.3 L280.6,194.8 L279.8,196.3 L279.2,197.8 L278.5,199.3 L277.8,200.8 L277.2,202.3 L276.5,203.8 L275.9,205.3 L275.3,206.8 L274.6,208.3 L274.0,209.8 L273.3,211.3 L272.6,212.8 L272.0,214.3 L271.3,215.8 L270.6,217.3 L269.9,218.8 L269.2,220.3 L268.5,221.8 L267.7,223.3 L267.0,224.8 L266.3,226.3 L265.6,227.8 L264.9,229.2 L264.1,230.7 L263.4,232.2 L262.7,233.7 L261.9,235.2 L261.2,236.7 L260.4,238.2 L259.7,239.7 L258.9,241.2 L258.1,242.7 L257.4,244.2 L256.6,245.7 L255.9,247.2 L255.1,248.7 L254.4,250.2 L253.7,251.7 L253.0,253.2 L252.3,254.7 L251.7,256.2 L251.1,257.7 L250.6,259.2 L250.0,260.7 L249.5,262.2 L249.0,263.7 L248.7,265.2 L248.5,266.6 L248.5,268.1 L248.6,269.6 L248.6,271.1 L248.7,272.6 L248.8,274.1 L249.0,275.6 L249.2,277.1 L249.5,278.6 L250.0,280.1 L250.5,281.6 L251.2,283.1 L251.9,284.6 L252.6,286.1 L253.3,287.6 L254.1,289.1 L255.0,290.6 L255.9,292.1 L256.9,293.6 L258.0,295.1 L259.0,296.6 L260.0,298.1 L261.1,299.6 L262.2,301.1 L263.2,302.6 L264.4,304.0 L265.5,305.5 L266.6,307.0 L267.8,308.5 L269.0,310.0 L270.2,311.5 L271.5,313.0 L272.8,314.5 L274.1,316.0 L275.4,317.5 L276.7,319.0 L278.1,320.5 L279.5,322.0" fill="none" stroke="#0000ff" stroke-width="1.2" stroke-linejoin="round" shape-rendering="auto"/>
<g font-size="31">
<text transform="translate(119.8,47.8) scale(1.06,1)" text-anchor="end">80</text>
<text transform="translate(119.8,104.3) scale(1.06,1)" text-anchor="end">60</text>
<text transform="translate(119.8,160.3) scale(1.06,1)" text-anchor="end">40</text>
<text transform="translate(119.8,215.3) scale(1.06,1)" text-anchor="end">20</text>
<text transform="translate(119.8,270.3) scale(1.06,1)" text-anchor="end">0</text>
<text transform="translate(119.8,326.3) scale(1.06,1)" text-anchor="end">-20</text>
<text transform="translate(119.8,381.3) scale(1.06,1)" text-anchor="end">-40</text>
<text transform="translate(119.8,436.3) scale(1.06,1)" text-anchor="end">-60</text>
<text transform="translate(119.8,490.8) scale(1.06,1)" text-anchor="end">-80</text>
<text transform="translate(193.0,529) scale(1.06,1)" text-anchor="middle">0</text>
<text transform="translate(294.0,529) scale(1.06,1)" text-anchor="middle">40</text>
<text transform="translate(396.0,529) scale(1.06,1)" text-anchor="middle">80</text>
<text transform="translate(497.0,529) scale(1.06,1)" text-anchor="middle">120</text>
<text transform="translate(599.0,529) scale(1.06,1)" text-anchor="middle">160</text>
<text transform="translate(700.0,529) scale(1.06,1)" text-anchor="middle">200</text>
<text transform="translate(442,585.5) scale(1.03,1)" text-anchor="middle">p [kPa]</text>
<text transform="translate(40,258) rotate(-90) scale(1.03,1)" text-anchor="middle">q [kPa]</text>
</g>
</svg>
</body></html>
